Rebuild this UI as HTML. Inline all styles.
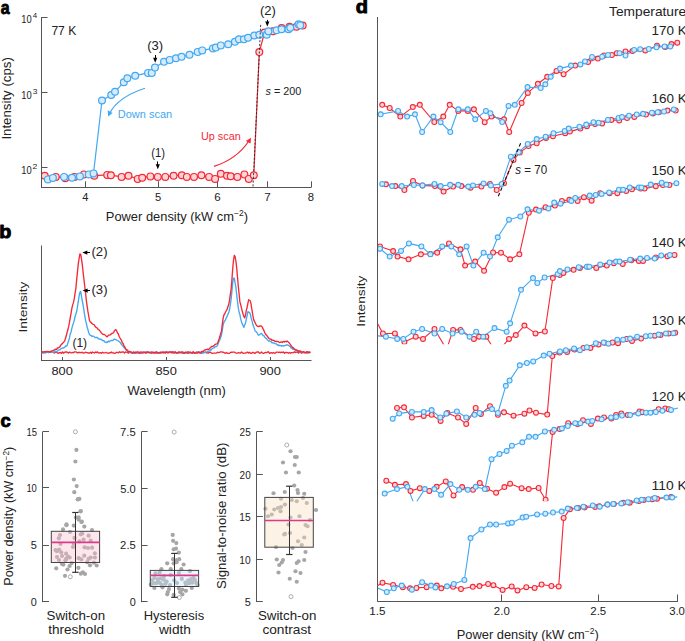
<!DOCTYPE html>
<html><head><meta charset="utf-8"><style>html,body{margin:0;padding:0;background:#fff;width:685px;height:641px;overflow:hidden}svg{display:block}text{font-family:"Liberation Sans",sans-serif}</style></head><body>
<svg width="685" height="641" viewBox="0 0 685 641" font-family='"Liberation Sans", sans-serif'>
<rect width="685" height="641" fill="#fff"/>
<line x1="41.5" y1="17" x2="41.5" y2="187.8" stroke="#555" stroke-width="1" />
<line x1="41.0" y1="187.5" x2="311.5" y2="187.5" stroke="#555" stroke-width="1" />
<line x1="41.5" y1="17.5" x2="47.5" y2="17.5" stroke="#555" stroke-width="1" />
<line x1="41.5" y1="92.5" x2="47.5" y2="92.5" stroke="#555" stroke-width="1" />
<line x1="41.5" y1="167.5" x2="47.5" y2="167.5" stroke="#555" stroke-width="1" />
<line x1="85.5" y1="187.3" x2="85.5" y2="181.3" stroke="#555" stroke-width="1" />
<text x="82.34" y="200.7" font-size="11" fill="#222" textLength="6.18" lengthAdjust="spacingAndGlyphs">4</text>
<line x1="158.5" y1="187.3" x2="158.5" y2="181.3" stroke="#555" stroke-width="1" />
<text x="154.94" y="200.7" font-size="11" fill="#222" textLength="6.22" lengthAdjust="spacingAndGlyphs">5</text>
<line x1="217.5" y1="187.3" x2="217.5" y2="181.3" stroke="#555" stroke-width="1" />
<text x="214.15" y="200.7" font-size="11" fill="#222" textLength="6.39" lengthAdjust="spacingAndGlyphs">6</text>
<line x1="267.5" y1="187.3" x2="267.5" y2="181.3" stroke="#555" stroke-width="1" />
<text x="264.31" y="200.7" font-size="11" fill="#222" textLength="6.48" lengthAdjust="spacingAndGlyphs">7</text>
<line x1="311.5" y1="187.3" x2="311.5" y2="181.3" stroke="#555" stroke-width="1" />
<text x="307.88" y="200.7" font-size="11" fill="#222" textLength="6.28" lengthAdjust="spacingAndGlyphs">8</text>
<text x="21.19" y="23.3" font-size="11" fill="#222" textLength="10.43" lengthAdjust="spacingAndGlyphs">10</text>
<text x="32.82" y="18.2" font-size="7.4" fill="#222" textLength="4.41" lengthAdjust="spacingAndGlyphs">4</text>
<text x="21.19" y="99.1" font-size="11" fill="#222" textLength="10.43" lengthAdjust="spacingAndGlyphs">10</text>
<text x="32.68" y="94.0" font-size="7.4" fill="#222" textLength="4.69" lengthAdjust="spacingAndGlyphs">3</text>
<text x="21.19" y="174.0" font-size="11" fill="#222" textLength="10.43" lengthAdjust="spacingAndGlyphs">10</text>
<text x="32.56" y="168.89999999999998" font-size="7.4" fill="#222" textLength="4.88" lengthAdjust="spacingAndGlyphs">2</text>
<text transform="translate(10.8,138.4) rotate(-90)" x="-1.22" y="0" font-size="12.3" fill="#222" textLength="82.44" lengthAdjust="spacingAndGlyphs">Intensity (cps)</text>
<text x="176.9" y="220.6" font-size="12.9" text-anchor="middle" fill="#222">Power density (kW cm<tspan font-size="8.5" dy="-4.8">−2</tspan><tspan dy="4.8">)</tspan></text>
<text x="0.83" y="14.0" font-size="18.5" fill="#000" font-weight="bold" textLength="8.87" lengthAdjust="spacingAndGlyphs" stroke="#000" stroke-width="0.9" stroke-linejoin="round">a</text>
<text x="51.38" y="34.6" font-size="12.8" fill="#222" textLength="24.96" lengthAdjust="spacingAndGlyphs">77 K</text>
<clipPath id="cpa"><rect x="42" y="0" width="300" height="187"/></clipPath><g clip-path="url(#cpa)">
<polyline points="44.7,175.7 55.8,176.9 65.3,178.2 74.4,176.9 83.9,174.4 94.3,175.7 107.2,174.9 110.9,175.2 121.6,176.9 128.5,175.7 137.7,178.9 142.2,177.7 150.4,176.4 157.8,176.9 165.3,176.9 173.6,175.7 181.8,175.2 186.8,176.9 194.0,176.9 201.4,175.2 209.1,176.9 215.1,178.9 220.8,173.7 227.0,175.7 230.7,176.2 237.4,176.9 244.4,174.4 248.8,178.9 253.8,175.2 259.3,52.1 264.5,32.5 272.9,31.2 281.6,28.0 289.5,26.8 296.5,26.8 302.7,25.6" fill="none" stroke="#f52835" stroke-width="1.2" stroke-linejoin="round" />
<polyline points="47.9,179.4 52.9,177.9 64.0,176.9 72.0,177.7 79.9,176.4 88.8,174.4 93.5,173.4 102.0,100.5 111.2,95.0 115.0,91.8 123.8,82.2 127.3,78.3 135.2,75.7 148.0,72.9 151.8,72.9 155.0,67.6 164.0,61.7 169.7,59.9 176.0,58.2 181.6,56.8 189.5,54.7 197.7,51.9 202.2,50.4 212.9,48.4 215.8,47.6 220.8,45.4 228.2,44.2 234.9,41.7 238.9,39.2 243.9,39.2 248.1,37.7 254.3,35.5 259.3,34.7 266.7,34.7 268.4,31.3 276.6,30.3 281.6,29.3 288.5,29.3 290.3,27.8 298.5,24.3 300.2,25.3" fill="none" stroke="#42a8f2" stroke-width="1.2" stroke-linejoin="round" />
<circle cx="44.7" cy="175.7" r="3.4" fill="#fcd5d8" stroke="#f52835" stroke-width="1.2"/>
<circle cx="55.8" cy="176.9" r="3.4" fill="#fcd5d8" stroke="#f52835" stroke-width="1.2"/>
<circle cx="65.3" cy="178.2" r="3.4" fill="#fcd5d8" stroke="#f52835" stroke-width="1.2"/>
<circle cx="74.4" cy="176.9" r="3.4" fill="#fcd5d8" stroke="#f52835" stroke-width="1.2"/>
<circle cx="83.9" cy="174.4" r="3.4" fill="#fcd5d8" stroke="#f52835" stroke-width="1.2"/>
<circle cx="94.3" cy="175.7" r="3.4" fill="#fcd5d8" stroke="#f52835" stroke-width="1.2"/>
<circle cx="107.2" cy="174.9" r="3.4" fill="#fcd5d8" stroke="#f52835" stroke-width="1.2"/>
<circle cx="110.9" cy="175.2" r="3.4" fill="#fcd5d8" stroke="#f52835" stroke-width="1.2"/>
<circle cx="121.6" cy="176.9" r="3.4" fill="#fcd5d8" stroke="#f52835" stroke-width="1.2"/>
<circle cx="128.5" cy="175.7" r="3.4" fill="#fcd5d8" stroke="#f52835" stroke-width="1.2"/>
<circle cx="137.7" cy="178.9" r="3.4" fill="#fcd5d8" stroke="#f52835" stroke-width="1.2"/>
<circle cx="142.2" cy="177.7" r="3.4" fill="#fcd5d8" stroke="#f52835" stroke-width="1.2"/>
<circle cx="150.4" cy="176.4" r="3.4" fill="#fcd5d8" stroke="#f52835" stroke-width="1.2"/>
<circle cx="157.8" cy="176.9" r="3.4" fill="#fcd5d8" stroke="#f52835" stroke-width="1.2"/>
<circle cx="165.3" cy="176.9" r="3.4" fill="#fcd5d8" stroke="#f52835" stroke-width="1.2"/>
<circle cx="173.6" cy="175.7" r="3.4" fill="#fcd5d8" stroke="#f52835" stroke-width="1.2"/>
<circle cx="181.8" cy="175.2" r="3.4" fill="#fcd5d8" stroke="#f52835" stroke-width="1.2"/>
<circle cx="186.8" cy="176.9" r="3.4" fill="#fcd5d8" stroke="#f52835" stroke-width="1.2"/>
<circle cx="194.0" cy="176.9" r="3.4" fill="#fcd5d8" stroke="#f52835" stroke-width="1.2"/>
<circle cx="201.4" cy="175.2" r="3.4" fill="#fcd5d8" stroke="#f52835" stroke-width="1.2"/>
<circle cx="209.1" cy="176.9" r="3.4" fill="#fcd5d8" stroke="#f52835" stroke-width="1.2"/>
<circle cx="215.1" cy="178.9" r="3.4" fill="#fcd5d8" stroke="#f52835" stroke-width="1.2"/>
<circle cx="220.8" cy="173.7" r="3.4" fill="#fcd5d8" stroke="#f52835" stroke-width="1.2"/>
<circle cx="227.0" cy="175.7" r="3.4" fill="#fcd5d8" stroke="#f52835" stroke-width="1.2"/>
<circle cx="230.7" cy="176.2" r="3.4" fill="#fcd5d8" stroke="#f52835" stroke-width="1.2"/>
<circle cx="237.4" cy="176.9" r="3.4" fill="#fcd5d8" stroke="#f52835" stroke-width="1.2"/>
<circle cx="244.4" cy="174.4" r="3.4" fill="#fcd5d8" stroke="#f52835" stroke-width="1.2"/>
<circle cx="248.8" cy="178.9" r="3.4" fill="#fcd5d8" stroke="#f52835" stroke-width="1.2"/>
<circle cx="253.8" cy="175.2" r="3.4" fill="#fcd5d8" stroke="#f52835" stroke-width="1.2"/>
<circle cx="259.3" cy="52.1" r="3.4" fill="#fcd5d8" stroke="#f52835" stroke-width="1.2"/>
<circle cx="264.5" cy="32.5" r="3.4" fill="#fcd5d8" stroke="#f52835" stroke-width="1.2"/>
<circle cx="272.9" cy="31.2" r="3.4" fill="#fcd5d8" stroke="#f52835" stroke-width="1.2"/>
<circle cx="281.6" cy="28.0" r="3.4" fill="#fcd5d8" stroke="#f52835" stroke-width="1.2"/>
<circle cx="289.5" cy="26.8" r="3.4" fill="#fcd5d8" stroke="#f52835" stroke-width="1.2"/>
<circle cx="296.5" cy="26.8" r="3.4" fill="#fcd5d8" stroke="#f52835" stroke-width="1.2"/>
<circle cx="302.7" cy="25.6" r="3.4" fill="#fcd5d8" stroke="#f52835" stroke-width="1.2"/>
<circle cx="47.9" cy="179.4" r="3.4" fill="#d5ebfc" stroke="#42a8f2" stroke-width="1.2"/>
<circle cx="52.9" cy="177.9" r="3.4" fill="#d5ebfc" stroke="#42a8f2" stroke-width="1.2"/>
<circle cx="64.0" cy="176.9" r="3.4" fill="#d5ebfc" stroke="#42a8f2" stroke-width="1.2"/>
<circle cx="72.0" cy="177.7" r="3.4" fill="#d5ebfc" stroke="#42a8f2" stroke-width="1.2"/>
<circle cx="79.9" cy="176.4" r="3.4" fill="#d5ebfc" stroke="#42a8f2" stroke-width="1.2"/>
<circle cx="88.8" cy="174.4" r="3.4" fill="#d5ebfc" stroke="#42a8f2" stroke-width="1.2"/>
<circle cx="93.5" cy="173.4" r="3.4" fill="#d5ebfc" stroke="#42a8f2" stroke-width="1.2"/>
<circle cx="102.0" cy="100.5" r="3.4" fill="#d5ebfc" stroke="#42a8f2" stroke-width="1.2"/>
<circle cx="111.2" cy="95.0" r="3.4" fill="#d5ebfc" stroke="#42a8f2" stroke-width="1.2"/>
<circle cx="115.0" cy="91.8" r="3.4" fill="#d5ebfc" stroke="#42a8f2" stroke-width="1.2"/>
<circle cx="123.8" cy="82.2" r="3.4" fill="#d5ebfc" stroke="#42a8f2" stroke-width="1.2"/>
<circle cx="127.3" cy="78.3" r="3.4" fill="#d5ebfc" stroke="#42a8f2" stroke-width="1.2"/>
<circle cx="135.2" cy="75.7" r="3.4" fill="#d5ebfc" stroke="#42a8f2" stroke-width="1.2"/>
<circle cx="148.0" cy="72.9" r="3.4" fill="#d5ebfc" stroke="#42a8f2" stroke-width="1.2"/>
<circle cx="151.8" cy="72.9" r="3.4" fill="#d5ebfc" stroke="#42a8f2" stroke-width="1.2"/>
<circle cx="155.0" cy="67.6" r="3.4" fill="#d5ebfc" stroke="#42a8f2" stroke-width="1.2"/>
<circle cx="164.0" cy="61.7" r="3.4" fill="#d5ebfc" stroke="#42a8f2" stroke-width="1.2"/>
<circle cx="169.7" cy="59.9" r="3.4" fill="#d5ebfc" stroke="#42a8f2" stroke-width="1.2"/>
<circle cx="176.0" cy="58.2" r="3.4" fill="#d5ebfc" stroke="#42a8f2" stroke-width="1.2"/>
<circle cx="181.6" cy="56.8" r="3.4" fill="#d5ebfc" stroke="#42a8f2" stroke-width="1.2"/>
<circle cx="189.5" cy="54.7" r="3.4" fill="#d5ebfc" stroke="#42a8f2" stroke-width="1.2"/>
<circle cx="197.7" cy="51.9" r="3.4" fill="#d5ebfc" stroke="#42a8f2" stroke-width="1.2"/>
<circle cx="202.2" cy="50.4" r="3.4" fill="#d5ebfc" stroke="#42a8f2" stroke-width="1.2"/>
<circle cx="212.9" cy="48.4" r="3.4" fill="#d5ebfc" stroke="#42a8f2" stroke-width="1.2"/>
<circle cx="215.8" cy="47.6" r="3.4" fill="#d5ebfc" stroke="#42a8f2" stroke-width="1.2"/>
<circle cx="220.8" cy="45.4" r="3.4" fill="#d5ebfc" stroke="#42a8f2" stroke-width="1.2"/>
<circle cx="228.2" cy="44.2" r="3.4" fill="#d5ebfc" stroke="#42a8f2" stroke-width="1.2"/>
<circle cx="234.9" cy="41.7" r="3.4" fill="#d5ebfc" stroke="#42a8f2" stroke-width="1.2"/>
<circle cx="238.9" cy="39.2" r="3.4" fill="#d5ebfc" stroke="#42a8f2" stroke-width="1.2"/>
<circle cx="243.9" cy="39.2" r="3.4" fill="#d5ebfc" stroke="#42a8f2" stroke-width="1.2"/>
<circle cx="248.1" cy="37.7" r="3.4" fill="#d5ebfc" stroke="#42a8f2" stroke-width="1.2"/>
<circle cx="254.3" cy="35.5" r="3.4" fill="#d5ebfc" stroke="#42a8f2" stroke-width="1.2"/>
<circle cx="259.3" cy="34.7" r="3.4" fill="#d5ebfc" stroke="#42a8f2" stroke-width="1.2"/>
<circle cx="266.7" cy="34.7" r="3.4" fill="#d5ebfc" stroke="#42a8f2" stroke-width="1.2"/>
<circle cx="268.4" cy="31.3" r="3.4" fill="#d5ebfc" stroke="#42a8f2" stroke-width="1.2"/>
<circle cx="276.6" cy="30.3" r="3.4" fill="#d5ebfc" stroke="#42a8f2" stroke-width="1.2"/>
<circle cx="281.6" cy="29.3" r="3.4" fill="#d5ebfc" stroke="#42a8f2" stroke-width="1.2"/>
<circle cx="288.5" cy="29.3" r="3.4" fill="#d5ebfc" stroke="#42a8f2" stroke-width="1.2"/>
<circle cx="290.3" cy="27.8" r="3.4" fill="#d5ebfc" stroke="#42a8f2" stroke-width="1.2"/>
<circle cx="298.5" cy="24.3" r="3.4" fill="#d5ebfc" stroke="#42a8f2" stroke-width="1.2"/>
<circle cx="300.2" cy="25.3" r="3.4" fill="#d5ebfc" stroke="#42a8f2" stroke-width="1.2"/>
<line x1="253" y1="186.5" x2="260.7" y2="24" stroke="#222" stroke-width="0.85" stroke-dasharray="2.2,1.6"/>
</g>
<text x="147.19" y="50.3" font-size="12.5" fill="#222" textLength="15.92" lengthAdjust="spacingAndGlyphs">(3)</text>
<line x1="155.5" y1="55" x2="155.5" y2="59.8" stroke="#000" stroke-width="1" />
<path d="M153.1,57.8 L157.29999999999998,57.8 L155.2,62.8 Z" fill="#000"/>
<text x="259.94" y="14.5" font-size="12.5" fill="#222" textLength="15.92" lengthAdjust="spacingAndGlyphs">(2)</text>
<line x1="267.5" y1="19.9" x2="267.5" y2="23.5" stroke="#000" stroke-width="1" />
<path d="M265.2,21.5 L269.40000000000003,21.5 L267.3,26.5 Z" fill="#000"/>
<text x="151.20" y="157.4" font-size="12.5" fill="#222" textLength="13.80" lengthAdjust="spacingAndGlyphs">(1)</text>
<line x1="157.5" y1="161.5" x2="157.5" y2="166.2" stroke="#000" stroke-width="1" />
<path d="M155.70000000000002,164.2 L159.9,164.2 L157.8,169.2 Z" fill="#000"/>
<text x="265.5" y="95" font-size="11.7" fill="#222" textLength="35.8" lengthAdjust="spacingAndGlyphs"><tspan font-style="italic">s</tspan> = 200</text>
<path d="M145,88.2 Q118,97 109.8,113" fill="none" stroke="#42a8f2" stroke-width="1.2"/>
<path d="M108.2,116.6 L107.6,110.2 L112.6,112.9 Z" fill="#42a8f2"/>
<text x="117.80" y="117.6" font-size="10.9" fill="#42a8f2" textLength="54.42" lengthAdjust="spacingAndGlyphs">Down scan</text>
<path d="M213.9,166.4 Q237,159 248.8,141" fill="none" stroke="#f52835" stroke-width="1.2"/>
<path d="M251,137.8 L250.6,143.6 L245.9,141 Z" fill="#f52835"/>
<text x="201.07" y="139.8" font-size="10.4" fill="#f52835" textLength="39.64" lengthAdjust="spacingAndGlyphs">Up scan</text>
<line x1="41.5" y1="245.5" x2="41.5" y2="361" stroke="#555" stroke-width="1" />
<line x1="41.0" y1="360.5" x2="311.5" y2="360.5" stroke="#555" stroke-width="1" />
<line x1="62.5" y1="360.6" x2="62.5" y2="357" stroke="#555" stroke-width="1" />
<text x="51.49" y="374.6" font-size="11.3" fill="#222" textLength="21.36" lengthAdjust="spacingAndGlyphs">800</text>
<line x1="166.5" y1="360.6" x2="166.5" y2="357" stroke="#555" stroke-width="1" />
<text x="155.49" y="374.6" font-size="11.3" fill="#222" textLength="21.36" lengthAdjust="spacingAndGlyphs">850</text>
<line x1="270.5" y1="360.6" x2="270.5" y2="357" stroke="#555" stroke-width="1" />
<text x="259.45" y="374.6" font-size="11.3" fill="#222" textLength="21.40" lengthAdjust="spacingAndGlyphs">900</text>
<text x="127.54" y="394.7" font-size="13" fill="#222" textLength="98.36" lengthAdjust="spacingAndGlyphs">Wavelength (nm)</text>
<text transform="translate(27.2,331.3) rotate(-90)" x="-1.26" y="0" font-size="11.4" fill="#222" textLength="50.99" lengthAdjust="spacingAndGlyphs">Intensity</text>
<text x="-0.81" y="237.8" font-size="18.9" fill="#000" font-weight="bold" textLength="12.12" lengthAdjust="spacingAndGlyphs" stroke="#000" stroke-width="0.9" stroke-linejoin="round">b</text>
<polyline points="41.5,352.3 42.5,352.0 43.5,352.8 44.5,351.9 45.5,352.7 46.5,352.4 47.5,351.9 48.5,352.6 49.5,351.9 50.5,352.5 51.5,351.9 52.5,351.9 53.5,352.5 54.5,353.1 55.5,352.0 56.5,352.2 57.5,352.8 58.5,353.3 59.5,352.7 60.5,352.4 61.5,353.4 62.5,351.9 63.5,353.2 64.5,352.3 65.5,352.0 66.5,352.0 67.5,352.3 68.5,353.1 69.5,352.1 70.5,352.7 71.5,352.8 72.5,352.4 73.5,352.7 74.5,351.9 75.5,351.9 76.5,352.1 77.5,352.9 78.5,352.5 79.5,352.3 80.5,352.7 81.5,352.5 82.5,352.3 83.5,353.1 84.5,352.9 85.5,352.2 86.5,352.7 87.5,352.6 88.5,353.2 89.5,353.0 90.5,352.3 91.5,353.4 92.5,352.0 93.5,352.5 94.5,353.0 95.5,352.0 96.5,352.6 97.5,351.9 98.5,352.9 99.5,353.0 100.5,352.7 101.5,353.2 102.5,352.3 103.5,352.9 104.5,352.8 105.5,352.7 106.5,352.5 107.5,353.1 108.5,353.3 109.5,352.6 110.5,352.9 111.5,351.9 112.5,352.9 113.5,352.8 114.5,353.4 115.5,353.1 116.5,352.3 117.5,352.4 118.5,352.9 119.5,351.8 120.5,352.5 121.5,352.1 122.5,352.0 123.5,351.9 124.5,353.0 125.5,352.0 126.5,352.2 127.5,352.4 128.5,353.2 129.5,351.9 130.5,352.5 131.5,352.7 132.5,353.2 133.5,353.1 134.5,353.2 135.5,352.2 136.5,352.5 137.5,352.4 138.5,353.2 139.5,353.3 140.5,352.0 141.5,352.1 142.5,352.2 143.5,352.2 144.5,352.6 145.5,352.7 146.5,352.2 147.5,351.8 148.5,352.5 149.5,352.4 150.5,352.7 151.5,353.3 152.5,352.9 153.5,352.6 154.5,352.8 155.5,352.9 156.5,351.9 157.5,353.2 158.5,353.0 159.5,353.2 160.5,353.1 161.5,352.4 162.5,352.4 163.5,352.0 164.5,352.8 165.5,351.9 166.5,351.9 167.5,352.1 168.5,352.1 169.5,352.3 170.5,351.9 171.5,351.8 172.5,352.0 173.5,352.0 174.5,352.4 175.5,351.8 176.5,353.2 177.5,352.8 178.5,352.0 179.5,352.2 180.5,352.4 181.5,352.4 182.5,352.0 183.5,353.2 184.5,353.4 185.5,352.5 186.5,352.6 187.5,351.9 188.5,352.0 189.5,352.3 190.5,352.2 191.5,353.1 192.5,352.1 193.5,351.8 194.5,353.3 195.5,352.6 196.5,352.0 197.5,352.7 198.5,351.8 199.5,352.6 200.5,353.4 201.5,353.2 202.5,352.9 203.5,352.2 204.5,352.4 205.5,352.1 206.5,353.0 207.5,352.7 208.5,353.0 209.5,352.3 210.5,352.2 211.5,353.1 212.5,353.4 213.5,353.2 214.5,353.1 215.5,353.1 216.5,353.0 217.5,352.2 218.5,352.6 219.5,352.4 220.5,351.8 221.5,351.8 222.5,352.2 223.5,352.2 224.5,352.9 225.5,353.3 226.5,352.5 227.5,353.3 228.5,353.4 229.5,353.3 230.5,352.4 231.5,352.2 232.5,352.2 233.5,352.1 234.5,352.1 235.5,352.8 236.5,353.2 237.5,353.1 238.5,352.6 239.5,352.8 240.5,353.1 241.5,351.9 242.5,352.9 243.5,353.3 244.5,353.1 245.5,353.0 246.5,352.6 247.5,352.1 248.5,353.1 249.5,352.3 250.5,353.1 251.5,353.4 252.5,352.4 253.5,352.4 254.5,353.3 255.5,353.0 256.5,352.1 257.5,352.0 258.5,352.0 259.5,353.2 260.5,353.1 261.5,352.0 262.5,353.1 263.5,353.4 264.5,352.9 265.5,352.4 266.5,352.7 267.5,352.0 268.5,351.8 269.5,353.4 270.5,352.8 271.5,352.6 272.5,353.3 273.5,352.5 274.5,353.2 275.5,353.1 276.5,352.1 277.5,352.2 278.5,352.3 279.5,352.2 280.5,352.7 281.5,352.2 282.5,352.5 283.5,352.0 284.5,353.3 285.5,352.4 286.5,352.5 287.5,352.7 288.5,353.2 289.5,352.5 290.5,353.3 291.5,352.6 292.5,352.7 293.5,352.6 294.5,351.8 295.5,352.5 296.5,352.1 297.5,351.8 298.5,353.1 299.5,352.1 300.5,352.6 301.5,353.0 302.5,352.7 303.5,352.3 304.5,352.6 305.5,352.7 306.5,353.1 307.5,352.0 308.5,352.7 309.5,352.2 310.5,352.2" fill="none" stroke="#f52835" stroke-width="1.35" stroke-linejoin="round" />
<polyline points="41.5,353.1 42.3,352.7 43.1,352.7 43.9,352.9 44.7,352.9 45.5,352.4 46.3,352.5 47.1,352.3 47.9,352.2 48.7,352.3 49.5,352.0 50.3,352.0 51.1,351.9 51.9,352.3 52.7,351.9 53.5,352.1 54.3,352.1 55.1,351.2 55.9,351.3 56.7,351.5 57.5,351.1 58.3,350.1 59.1,349.8 59.9,349.8 60.7,348.9 61.5,348.6 62.3,347.9 63.1,348.1 63.9,347.7 64.7,347.3 65.5,346.0 66.3,346.2 67.1,345.6 67.9,342.7 68.7,340.5 69.5,337.7 70.3,333.9 71.1,331.7 71.9,328.1 72.7,325.3 73.5,322.9 74.3,320.0 75.1,316.5 75.9,314.0 76.7,311.3 77.5,306.7 78.3,301.3 79.1,296.2 79.9,292.2 80.7,291.4 81.5,296.5 82.3,300.9 83.1,305.0 83.9,310.2 84.7,315.4 85.5,320.1 86.3,323.2 87.1,327.0 87.9,329.5 88.7,332.5 89.5,334.4 90.3,335.4 91.1,335.4 91.9,336.5 92.7,336.1 93.5,336.2 94.3,336.8 95.1,337.5 95.9,337.7 96.7,337.3 97.5,337.6 98.3,338.8 99.1,338.9 99.9,339.4 100.7,339.1 101.5,339.5 102.3,340.5 103.1,340.7 103.9,340.7 104.7,342.0 105.5,342.1 106.3,342.6 107.1,341.6 107.9,342.2 108.7,341.0 109.5,341.6 110.3,340.9 111.1,340.5 111.9,340.5 112.7,340.6 113.5,339.6 114.3,339.2 115.1,339.5 115.9,339.6 116.7,340.0 117.5,340.5 118.3,340.9 119.1,341.5 119.9,342.1 120.7,343.1 121.5,344.7 122.3,345.2 123.1,346.5 123.9,347.2 124.7,348.5 125.5,349.2 126.3,350.1 127.1,350.2 127.9,351.4 128.7,351.6 129.5,351.5 130.3,352.2 131.1,353.1 131.9,352.2 132.7,353.0 133.5,352.5 134.3,352.6 135.1,353.0 135.9,352.5 136.7,352.6 137.5,352.8 138.3,353.1 139.1,352.4 139.9,353.0 140.7,352.8 141.5,352.7 142.3,352.5 143.1,352.4 143.9,352.1 144.7,352.2 145.5,352.1 146.3,352.9 147.1,352.3 147.9,352.2 148.7,352.1 149.5,353.0 150.3,353.0 151.1,352.8 151.9,352.4 152.7,352.3 153.5,352.4 154.3,352.6 155.1,352.2 155.9,352.5 156.7,352.3 157.5,353.1 158.3,353.1 159.1,352.7 159.9,352.3 160.7,353.1 161.5,352.4 162.3,352.4 163.1,352.1 163.9,352.5 164.7,352.6 165.5,352.6 166.3,352.3 167.1,352.6 167.9,352.1 168.7,352.3 169.5,352.1 170.3,352.5 171.1,352.1 171.9,352.1 172.7,352.4 173.5,352.3 174.3,352.7 175.1,352.6 175.9,352.9 176.7,352.8 177.5,352.8 178.3,353.0 179.1,352.5 179.9,352.4 180.7,353.1 181.5,352.2 182.3,352.8 183.1,352.8 183.9,352.1 184.7,353.0 185.5,353.0 186.3,352.7 187.1,352.9 187.9,352.9 188.7,352.2 189.5,352.6 190.3,352.6 191.1,353.0 191.9,352.9 192.7,353.0 193.5,352.7 194.3,353.0 195.1,352.8 195.9,352.8 196.7,352.3 197.5,352.1 198.3,352.2 199.1,352.4 199.9,352.2 200.7,353.0 201.5,352.7 202.3,352.7 203.1,352.7 203.9,352.8 204.7,352.6 205.5,351.9 206.3,352.4 207.1,352.0 207.9,351.4 208.7,351.1 209.5,351.0 210.3,349.8 211.1,350.0 211.9,348.9 212.7,348.2 213.5,347.8 214.3,347.8 215.1,346.6 215.9,346.7 216.7,346.4 217.5,345.3 218.3,343.2 219.1,341.3 219.9,339.5 220.7,337.6 221.5,335.0 222.3,330.4 223.1,325.1 223.9,322.4 224.7,320.9 225.5,319.9 226.3,317.8 227.1,316.4 227.9,314.2 228.7,312.6 229.5,309.8 230.3,304.8 231.1,299.4 231.9,291.5 232.7,282.9 233.5,278.2 234.3,278.1 235.1,282.8 235.9,287.1 236.7,294.7 237.5,301.3 238.3,308.2 239.1,311.9 239.9,314.7 240.7,318.9 241.5,321.8 242.3,324.1 243.1,325.6 243.9,327.4 244.7,324.9 245.5,323.3 246.3,319.1 247.1,315.6 247.9,311.7 248.7,312.1 249.5,312.6 250.3,314.0 251.1,317.9 251.9,320.6 252.7,323.7 253.5,326.2 254.3,328.4 255.1,330.9 255.9,331.6 256.7,332.3 257.5,333.5 258.3,335.2 259.1,335.1 259.9,334.4 260.7,333.7 261.5,333.5 262.3,334.3 263.1,335.7 263.9,335.6 264.7,337.2 265.5,338.1 266.3,338.1 267.1,339.8 267.9,340.3 268.7,341.1 269.5,340.8 270.3,341.3 271.1,341.7 271.9,342.8 272.7,342.7 273.5,342.9 274.3,343.4 275.1,343.6 275.9,343.8 276.7,344.1 277.5,345.2 278.3,344.8 279.1,345.8 279.9,345.3 280.7,345.6 281.5,346.1 282.3,345.7 283.1,345.7 283.9,346.0 284.7,345.7 285.5,345.4 286.3,344.9 287.1,345.0 287.9,345.0 288.7,345.4 289.5,346.3 290.3,346.4 291.1,348.0 291.9,348.3 292.7,349.0 293.5,349.3 294.3,349.3 295.1,349.4 295.9,350.8 296.7,350.3 297.5,351.1 298.3,351.1 299.1,351.2 299.9,351.9 300.7,352.3 301.5,351.7 302.3,352.3 303.1,352.0 303.9,352.5 304.7,352.5 305.5,352.3 306.3,352.3 307.1,352.4 307.9,353.1 308.7,352.7 309.5,352.4 310.3,353.1" fill="none" stroke="#42a8f2" stroke-width="1.35" stroke-linejoin="round" />
<polyline points="41.5,353.0 42.3,352.4 43.1,351.9 43.9,351.9 44.7,351.7 45.5,351.9 46.3,351.5 47.1,351.6 47.9,351.5 48.7,351.7 49.5,352.0 50.3,351.7 51.1,351.1 51.9,350.8 52.7,350.7 53.5,350.3 54.3,350.0 55.1,349.5 55.9,349.2 56.7,349.4 57.5,347.9 58.3,347.8 59.1,347.4 59.9,346.9 60.7,345.3 61.5,344.5 62.3,343.5 63.1,342.8 63.9,341.9 64.7,340.9 65.5,338.3 66.3,335.8 67.1,332.3 67.9,329.8 68.7,326.4 69.5,322.2 70.3,317.4 71.1,313.1 71.9,308.1 72.7,304.9 73.5,302.4 74.3,298.4 75.1,293.1 75.9,288.0 76.7,279.6 77.5,271.5 78.3,263.6 79.1,258.5 79.9,253.9 80.7,254.3 81.5,259.1 82.3,264.8 83.1,272.1 83.9,279.0 84.7,286.0 85.5,292.5 86.3,300.2 87.1,305.8 87.9,311.4 88.7,316.0 89.5,320.5 90.3,321.9 91.1,322.5 91.9,323.5 92.7,324.1 93.5,324.3 94.3,325.0 95.1,326.3 95.9,327.2 96.7,327.8 97.5,328.4 98.3,329.6 99.1,329.8 99.9,330.9 100.7,331.9 101.5,333.2 102.3,333.7 103.1,334.4 103.9,334.5 104.7,334.7 105.5,335.2 106.3,336.5 107.1,336.7 107.9,335.9 108.7,335.1 109.5,335.1 110.3,334.9 111.1,334.1 111.9,333.5 112.7,333.2 113.5,332.7 114.3,331.1 115.1,330.1 115.9,329.6 116.7,331.0 117.5,332.9 118.3,334.0 119.1,336.2 119.9,337.8 120.7,339.1 121.5,340.3 122.3,342.8 123.1,343.6 123.9,345.8 124.7,346.7 125.5,348.3 126.3,349.8 127.1,349.9 127.9,351.2 128.7,351.3 129.5,351.5 130.3,351.8 131.1,352.0 131.9,352.4 132.7,352.8 133.5,352.0 134.3,352.3 135.1,352.2 135.9,353.0 136.7,352.1 137.5,352.0 138.3,352.0 139.1,352.4 139.9,353.0 140.7,352.9 141.5,352.8 142.3,353.1 143.1,353.0 143.9,352.3 144.7,352.2 145.5,353.0 146.3,352.8 147.1,352.0 147.9,352.7 148.7,352.4 149.5,352.4 150.3,352.4 151.1,352.2 151.9,352.0 152.7,352.3 153.5,352.4 154.3,353.1 155.1,352.1 155.9,353.1 156.7,352.2 157.5,352.4 158.3,352.9 159.1,352.9 159.9,352.5 160.7,352.1 161.5,352.6 162.3,352.4 163.1,353.0 163.9,352.3 164.7,352.4 165.5,353.0 166.3,352.1 167.1,352.5 167.9,352.9 168.7,352.9 169.5,352.1 170.3,352.1 171.1,352.1 171.9,353.1 172.7,352.3 173.5,352.9 174.3,353.1 175.1,352.4 175.9,352.4 176.7,353.1 177.5,352.8 178.3,352.4 179.1,352.9 179.9,352.4 180.7,352.4 181.5,352.1 182.3,352.9 183.1,353.1 183.9,352.8 184.7,353.1 185.5,352.1 186.3,352.4 187.1,352.6 187.9,353.2 188.7,353.2 189.5,352.5 190.3,352.4 191.1,352.6 191.9,352.7 192.7,353.1 193.5,352.3 194.3,353.0 195.1,352.9 195.9,353.0 196.7,353.0 197.5,352.8 198.3,352.5 199.1,352.5 199.9,352.5 200.7,352.7 201.5,351.5 202.3,351.3 203.1,351.5 203.9,350.6 204.7,350.0 205.5,349.6 206.3,349.8 207.1,349.2 207.9,349.6 208.7,349.1 209.5,348.8 210.3,347.6 211.1,346.9 211.9,346.4 212.7,346.3 213.5,346.0 214.3,345.3 215.1,344.5 215.9,344.2 216.7,343.9 217.5,343.5 218.3,341.2 219.1,338.9 219.9,336.3 220.7,333.3 221.5,331.2 222.3,324.4 223.1,318.4 223.9,315.0 224.7,314.0 225.5,312.0 226.3,310.7 227.1,309.3 227.9,306.7 228.7,304.6 229.5,300.4 230.3,294.7 231.1,289.3 231.9,279.9 232.7,268.7 233.5,260.3 234.3,255.3 235.1,256.7 235.9,261.0 236.7,267.8 237.5,277.2 238.3,286.2 239.1,294.0 239.9,301.9 240.7,304.7 241.5,308.2 242.3,311.3 243.1,314.2 243.9,316.7 244.7,317.9 245.5,315.0 246.3,310.5 247.1,307.3 247.9,303.4 248.7,299.7 249.5,300.5 250.3,300.9 251.1,304.4 251.9,309.5 252.7,314.5 253.5,319.0 254.3,321.2 255.1,322.6 255.9,324.3 256.7,325.6 257.5,326.2 258.3,326.5 259.1,326.3 259.9,326.0 260.7,325.9 261.5,326.2 262.3,327.2 263.1,328.9 263.9,330.4 264.7,332.6 265.5,334.0 266.3,335.0 267.1,335.9 267.9,337.0 268.7,338.0 269.5,338.9 270.3,339.0 271.1,339.3 271.9,340.2 272.7,340.2 273.5,340.3 274.3,340.6 275.1,341.6 275.9,341.2 276.7,341.6 277.5,341.5 278.3,341.7 279.1,342.3 279.9,342.5 280.7,342.0 281.5,341.9 282.3,342.5 283.1,341.7 283.9,341.3 284.7,342.1 285.5,341.4 286.3,341.7 287.1,341.0 287.9,341.7 288.7,342.4 289.5,343.3 290.3,344.3 291.1,345.8 291.9,346.7 292.7,347.8 293.5,347.7 294.3,349.1 295.1,349.6 295.9,350.2 296.7,350.0 297.5,350.4 298.3,350.8 299.1,351.5 299.9,350.8 300.7,351.4 301.5,352.0 302.3,352.4 303.1,351.7 303.9,351.7 304.7,352.6 305.5,352.6 306.3,352.1 307.1,351.6 307.9,352.6 308.7,352.0 309.5,352.5 310.3,352.2" fill="none" stroke="#f52835" stroke-width="1.35" stroke-linejoin="round" />
<text x="91.49" y="256.2" font-size="12.5" fill="#222" textLength="16.03" lengthAdjust="spacingAndGlyphs">(2)</text>
<line x1="90" y1="252.5" x2="85.3" y2="252.5" stroke="#000" stroke-width="1" />
<path d="M87.3,250.5 L87.3,254.7 L82.3,252.6 Z" fill="#000"/>
<text x="91.49" y="294.45" font-size="12.5" fill="#222" textLength="16.03" lengthAdjust="spacingAndGlyphs">(3)</text>
<line x1="90" y1="290.5" x2="85.6" y2="290.5" stroke="#000" stroke-width="1" />
<path d="M87.6,288.5 L87.6,292.70000000000005 L82.6,290.6 Z" fill="#000"/>
<text x="72.45" y="346.7" font-size="12.5" fill="#222" textLength="14.69" lengthAdjust="spacingAndGlyphs">(1)</text>
<text x="0.58" y="427.2" font-size="18.5" fill="#000" font-weight="bold" textLength="10.26" lengthAdjust="spacingAndGlyphs" stroke="#000" stroke-width="0.9" stroke-linejoin="round">c</text>
<line x1="42.5" y1="431.6" x2="42.5" y2="602.2" stroke="#555" stroke-width="1" />
<line x1="42.7" y1="601.5" x2="49" y2="601.5" stroke="#555" stroke-width="1" />
<line x1="42.7" y1="431.5" x2="49" y2="431.5" stroke="#555" stroke-width="1" />
<text x="26.38" y="435.90000000000003" font-size="10.8" fill="#222" textLength="10.52" lengthAdjust="spacingAndGlyphs">15</text>
<line x1="42.7" y1="487.5" x2="49" y2="487.5" stroke="#555" stroke-width="1" />
<text x="26.38" y="492.2" font-size="10.8" fill="#222" textLength="10.49" lengthAdjust="spacingAndGlyphs">10</text>
<line x1="42.7" y1="545.5" x2="49" y2="545.5" stroke="#555" stroke-width="1" />
<text x="30.86" y="549.4" font-size="10.8" fill="#222" textLength="6.10" lengthAdjust="spacingAndGlyphs">5</text>
<line x1="42.7" y1="601.5" x2="49" y2="601.5" stroke="#555" stroke-width="1" />
<text x="30.88" y="606.0" font-size="10.8" fill="#222" textLength="6.05" lengthAdjust="spacingAndGlyphs">0</text>
<text transform="translate(13.4,516.2) rotate(-90)" font-size="12.6" text-anchor="middle" fill="#222">Power density (kW cm<tspan font-size="8.3" dy="-4.6">−2</tspan><tspan dy="4.6">)</tspan></text>
<circle cx="78" cy="499.2" r="2.1" fill="#a6a6a6"/>
<circle cx="79.4" cy="498.9" r="2.1" fill="#a6a6a6"/>
<circle cx="80.8" cy="511.2" r="2.1" fill="#a6a6a6"/>
<circle cx="75.9" cy="517.5" r="2.1" fill="#a6a6a6"/>
<circle cx="78.7" cy="519.6" r="2.1" fill="#a6a6a6"/>
<circle cx="81.8" cy="521.7" r="2.1" fill="#a6a6a6"/>
<circle cx="66.4" cy="525.2" r="2.1" fill="#a6a6a6"/>
<circle cx="73.8" cy="525.6" r="2.1" fill="#a6a6a6"/>
<circle cx="84.3" cy="526.6" r="2.1" fill="#a6a6a6"/>
<circle cx="63" cy="529.4" r="2.1" fill="#a6a6a6"/>
<circle cx="82.2" cy="533.6" r="2.1" fill="#a6a6a6"/>
<circle cx="80.8" cy="534.3" r="2.1" fill="#a6a6a6"/>
<circle cx="88.6" cy="535.7" r="2.1" fill="#a6a6a6"/>
<circle cx="58.8" cy="538.3" r="2.1" fill="#a6a6a6"/>
<circle cx="74.5" cy="537.9" r="2.1" fill="#a6a6a6"/>
<circle cx="83.6" cy="539.7" r="2.1" fill="#a6a6a6"/>
<circle cx="90.7" cy="540.7" r="2.1" fill="#a6a6a6"/>
<circle cx="79.4" cy="541.4" r="2.1" fill="#a6a6a6"/>
<circle cx="60.5" cy="543.9" r="2.1" fill="#a6a6a6"/>
<circle cx="73.8" cy="543.5" r="2.1" fill="#a6a6a6"/>
<circle cx="84.6" cy="547.3" r="2.1" fill="#a6a6a6"/>
<circle cx="92.1" cy="547.7" r="2.1" fill="#a6a6a6"/>
<circle cx="55.5" cy="550.1" r="2.1" fill="#a6a6a6"/>
<circle cx="59.1" cy="549.5" r="2.1" fill="#a6a6a6"/>
<circle cx="56.9" cy="551.2" r="2.1" fill="#a6a6a6"/>
<circle cx="61.2" cy="552.3" r="2.1" fill="#a6a6a6"/>
<circle cx="66.1" cy="553.7" r="2.1" fill="#a6a6a6"/>
<circle cx="94.9" cy="553.3" r="2.1" fill="#a6a6a6"/>
<circle cx="84.3" cy="555.7" r="2.1" fill="#a6a6a6"/>
<circle cx="69.6" cy="557.5" r="2.1" fill="#a6a6a6"/>
<circle cx="78.7" cy="558.2" r="2.1" fill="#a6a6a6"/>
<circle cx="81.3" cy="559.4" r="2.1" fill="#a6a6a6"/>
<circle cx="66.1" cy="558.9" r="2.1" fill="#a6a6a6"/>
<circle cx="65.4" cy="560.3" r="2.1" fill="#a6a6a6"/>
<circle cx="90.7" cy="557.5" r="2.1" fill="#a6a6a6"/>
<circle cx="94.9" cy="557.5" r="2.1" fill="#a6a6a6"/>
<circle cx="88.6" cy="558.9" r="2.1" fill="#a6a6a6"/>
<circle cx="61.9" cy="563.8" r="2.1" fill="#a6a6a6"/>
<circle cx="63.3" cy="564.6" r="2.1" fill="#a6a6a6"/>
<circle cx="71.7" cy="563.1" r="2.1" fill="#a6a6a6"/>
<circle cx="69.6" cy="566" r="2.1" fill="#a6a6a6"/>
<circle cx="87.2" cy="562.2" r="2.1" fill="#a6a6a6"/>
<circle cx="90" cy="565.3" r="2.1" fill="#a6a6a6"/>
<circle cx="93.9" cy="562.7" r="2.1" fill="#a6a6a6"/>
<circle cx="96.7" cy="565.5" r="2.1" fill="#a6a6a6"/>
<circle cx="56.2" cy="568.3" r="2.1" fill="#a6a6a6"/>
<circle cx="67.5" cy="569.5" r="2.1" fill="#a6a6a6"/>
<circle cx="78.4" cy="567.8" r="2.1" fill="#a6a6a6"/>
<circle cx="65" cy="575.8" r="2.1" fill="#a6a6a6"/>
<circle cx="80.8" cy="573.7" r="2.1" fill="#a6a6a6"/>
<circle cx="82.9" cy="572.3" r="2.1" fill="#a6a6a6"/>
<circle cx="85" cy="574" r="2.1" fill="#a6a6a6"/>
<circle cx="76.4" cy="449.9" r="2.1" fill="#a6a6a6"/>
<circle cx="75.4" cy="461.5" r="2.1" fill="#a6a6a6"/>
<circle cx="73.9" cy="479.5" r="2.1" fill="#a6a6a6"/>
<circle cx="76.7" cy="486.1" r="2.1" fill="#a6a6a6"/>
<circle cx="74.3" cy="492.2" r="2.1" fill="#a6a6a6"/>
<circle cx="77.7" cy="499.5" r="2.1" fill="#a6a6a6"/>
<circle cx="80.5" cy="511.3" r="2.1" fill="#a6a6a6"/>
<circle cx="78.6" cy="517.3" r="2.1" fill="#a6a6a6"/>
<circle cx="81.4" cy="522" r="2.1" fill="#a6a6a6"/>
<circle cx="66.5" cy="524.4" r="2.1" fill="#a6a6a6"/>
<circle cx="57" cy="557" r="2.1" fill="#a6a6a6"/>
<circle cx="62" cy="556" r="2.1" fill="#a6a6a6"/>
<circle cx="68" cy="556.5" r="2.1" fill="#a6a6a6"/>
<circle cx="59" cy="560" r="2.1" fill="#a6a6a6"/>
<circle cx="73" cy="547" r="2.1" fill="#a6a6a6"/>
<circle cx="88" cy="548" r="2.1" fill="#a6a6a6"/>
<circle cx="92" cy="530" r="2.1" fill="#a6a6a6"/>
<circle cx="60" cy="535" r="2.1" fill="#a6a6a6"/>
<circle cx="70" cy="532" r="2.1" fill="#a6a6a6"/>
<circle cx="75.4" cy="431.8" r="2" fill="#fff" stroke="#999" stroke-width="0.8"/>
<circle cx="70.3" cy="576.8" r="2" fill="#fff" stroke="#999" stroke-width="0.8"/>
<rect x="51.3" y="531.3" width="48.3" height="31.200000000000045" fill="rgba(250,190,205,0.38)" stroke="#444" stroke-width="1"/>
<line x1="75.5" y1="512.5" x2="75.5" y2="572.3" stroke="#333" stroke-width="1" />
<line x1="72.2" y1="512.5" x2="78.60000000000001" y2="512.5" stroke="#333" stroke-width="1.2" />
<line x1="72.2" y1="572.3" x2="78.60000000000001" y2="572.3" stroke="#333" stroke-width="1.2" />
<line x1="51.3" y1="542.4" x2="99.6" y2="542.4" stroke="#e0398a" stroke-width="1.6" />
<text x="46.60" y="619.8" font-size="13" fill="#222" textLength="58.47" lengthAdjust="spacingAndGlyphs">Switch-on</text>
<text x="48.19" y="634.2" font-size="13" fill="#222" textLength="55.78" lengthAdjust="spacingAndGlyphs">threshold</text>
<line x1="141.5" y1="431.8" x2="141.5" y2="602.2" stroke="#555" stroke-width="1" />
<line x1="141.4" y1="431.5" x2="147.6" y2="431.5" stroke="#555" stroke-width="1" />
<text x="120.12" y="436.1" font-size="10.8" fill="#222" textLength="15.65" lengthAdjust="spacingAndGlyphs">7.5</text>
<line x1="141.4" y1="488.5" x2="147.6" y2="488.5" stroke="#555" stroke-width="1" />
<text x="120.25" y="492.6" font-size="10.8" fill="#222" textLength="15.48" lengthAdjust="spacingAndGlyphs">5.0</text>
<line x1="141.4" y1="545.5" x2="147.6" y2="545.5" stroke="#555" stroke-width="1" />
<text x="120.13" y="549.4" font-size="10.8" fill="#222" textLength="15.64" lengthAdjust="spacingAndGlyphs">2.5</text>
<line x1="141.4" y1="601.5" x2="147.6" y2="601.5" stroke="#555" stroke-width="1" />
<text x="129.68" y="606.0" font-size="10.8" fill="#222" textLength="6.05" lengthAdjust="spacingAndGlyphs">0</text>
<circle cx="172.7" cy="534.9" r="2.1" fill="#a6a6a6"/>
<circle cx="173.1" cy="540.8" r="2.1" fill="#a6a6a6"/>
<circle cx="176.3" cy="543.1" r="2.1" fill="#a6a6a6"/>
<circle cx="173.7" cy="549.3" r="2.1" fill="#a6a6a6"/>
<circle cx="176" cy="548.7" r="2.1" fill="#a6a6a6"/>
<circle cx="178.9" cy="552.6" r="2.1" fill="#a6a6a6"/>
<circle cx="173.1" cy="559.2" r="2.1" fill="#a6a6a6"/>
<circle cx="176.8" cy="560.2" r="2.1" fill="#a6a6a6"/>
<circle cx="179.2" cy="559.2" r="2.1" fill="#a6a6a6"/>
<circle cx="176.6" cy="562.2" r="2.1" fill="#a6a6a6"/>
<circle cx="173.7" cy="563.3" r="2.1" fill="#a6a6a6"/>
<circle cx="167.2" cy="563.3" r="2.1" fill="#a6a6a6"/>
<circle cx="183.6" cy="564.5" r="2.1" fill="#a6a6a6"/>
<circle cx="161.4" cy="569.2" r="2.1" fill="#a6a6a6"/>
<circle cx="170.7" cy="569.2" r="2.1" fill="#a6a6a6"/>
<circle cx="181.3" cy="569.2" r="2.1" fill="#a6a6a6"/>
<circle cx="190" cy="571.2" r="2.1" fill="#a6a6a6"/>
<circle cx="155.5" cy="573.3" r="2.1" fill="#a6a6a6"/>
<circle cx="159.6" cy="572.7" r="2.1" fill="#a6a6a6"/>
<circle cx="170.7" cy="575" r="2.1" fill="#a6a6a6"/>
<circle cx="178.9" cy="573" r="2.1" fill="#a6a6a6"/>
<circle cx="154.4" cy="578" r="2.1" fill="#a6a6a6"/>
<circle cx="157.9" cy="579.1" r="2.1" fill="#a6a6a6"/>
<circle cx="160.8" cy="578.5" r="2.1" fill="#a6a6a6"/>
<circle cx="163.7" cy="579.7" r="2.1" fill="#a6a6a6"/>
<circle cx="166.6" cy="581.5" r="2.1" fill="#a6a6a6"/>
<circle cx="174.2" cy="580.3" r="2.1" fill="#a6a6a6"/>
<circle cx="181.8" cy="578.9" r="2.1" fill="#a6a6a6"/>
<circle cx="188.3" cy="580.3" r="2.1" fill="#a6a6a6"/>
<circle cx="191.2" cy="579.1" r="2.1" fill="#a6a6a6"/>
<circle cx="193.5" cy="578" r="2.1" fill="#a6a6a6"/>
<circle cx="153.2" cy="583.2" r="2.1" fill="#a6a6a6"/>
<circle cx="156.1" cy="583.2" r="2.1" fill="#a6a6a6"/>
<circle cx="160.2" cy="583.2" r="2.1" fill="#a6a6a6"/>
<circle cx="165.5" cy="583.8" r="2.1" fill="#a6a6a6"/>
<circle cx="185.4" cy="582.6" r="2.1" fill="#a6a6a6"/>
<circle cx="189.4" cy="583.2" r="2.1" fill="#a6a6a6"/>
<circle cx="192.4" cy="582.6" r="2.1" fill="#a6a6a6"/>
<circle cx="196.5" cy="583.2" r="2.1" fill="#a6a6a6"/>
<circle cx="150.8" cy="584.4" r="2.1" fill="#a6a6a6"/>
<circle cx="197.6" cy="585" r="2.1" fill="#a6a6a6"/>
<circle cx="154.4" cy="587.9" r="2.1" fill="#a6a6a6"/>
<circle cx="162.5" cy="587.3" r="2.1" fill="#a6a6a6"/>
<circle cx="169" cy="589.1" r="2.1" fill="#a6a6a6"/>
<circle cx="178.9" cy="588.5" r="2.1" fill="#a6a6a6"/>
<circle cx="182.4" cy="589.6" r="2.1" fill="#a6a6a6"/>
<circle cx="191.8" cy="587.9" r="2.1" fill="#a6a6a6"/>
<circle cx="167.8" cy="592" r="2.1" fill="#a6a6a6"/>
<circle cx="180.1" cy="592" r="2.1" fill="#a6a6a6"/>
<circle cx="185.9" cy="590.8" r="2.1" fill="#a6a6a6"/>
<circle cx="167.2" cy="594.3" r="2.1" fill="#a6a6a6"/>
<circle cx="182.4" cy="594.3" r="2.1" fill="#a6a6a6"/>
<circle cx="173.7" cy="594.9" r="2.1" fill="#a6a6a6"/>
<circle cx="158" cy="581" r="2.1" fill="#a6a6a6"/>
<circle cx="162" cy="585" r="2.1" fill="#a6a6a6"/>
<circle cx="152" cy="580" r="2.1" fill="#a6a6a6"/>
<circle cx="186" cy="585" r="2.1" fill="#a6a6a6"/>
<circle cx="195" cy="580" r="2.1" fill="#a6a6a6"/>
<circle cx="170" cy="585" r="2.1" fill="#a6a6a6"/>
<circle cx="177" cy="583" r="2.1" fill="#a6a6a6"/>
<circle cx="164" cy="576" r="2.1" fill="#a6a6a6"/>
<circle cx="174.2" cy="432.1" r="2" fill="#fff" stroke="#999" stroke-width="0.8"/>
<circle cx="179.3" cy="597.5" r="2" fill="#fff" stroke="#999" stroke-width="0.8"/>
<rect x="150.3" y="570.4" width="48.29999999999998" height="16.100000000000023" fill="rgba(200,228,250,0.38)" stroke="#444" stroke-width="1"/>
<line x1="174.5" y1="553.4" x2="174.5" y2="597.3" stroke="#333" stroke-width="1" />
<line x1="171.20000000000002" y1="553.4" x2="177.6" y2="553.4" stroke="#333" stroke-width="1.2" />
<line x1="171.20000000000002" y1="597.3" x2="177.6" y2="597.3" stroke="#333" stroke-width="1.2" />
<line x1="150.3" y1="575.4" x2="198.6" y2="575.4" stroke="#e0398a" stroke-width="1.6" />
<text x="143.69" y="619.8" font-size="13" fill="#222" textLength="60.43" lengthAdjust="spacingAndGlyphs">Hysteresis</text>
<text x="159.02" y="634.2" font-size="13" fill="#222" textLength="31.87" lengthAdjust="spacingAndGlyphs">width</text>
<line x1="256.5" y1="431.6" x2="256.5" y2="602" stroke="#555" stroke-width="1" />
<line x1="256.5" y1="431.5" x2="262.8" y2="431.5" stroke="#555" stroke-width="1" />
<text x="239.60" y="435.90000000000003" font-size="10.8" fill="#222" textLength="11.12" lengthAdjust="spacingAndGlyphs">25</text>
<line x1="256.5" y1="474.5" x2="262.8" y2="474.5" stroke="#555" stroke-width="1" />
<text x="239.60" y="478.6" font-size="10.8" fill="#222" textLength="11.09" lengthAdjust="spacingAndGlyphs">20</text>
<line x1="256.5" y1="516.5" x2="262.8" y2="516.5" stroke="#555" stroke-width="1" />
<text x="239.32" y="521.0999999999999" font-size="10.8" fill="#222" textLength="11.41" lengthAdjust="spacingAndGlyphs">15</text>
<line x1="256.5" y1="559.5" x2="262.8" y2="559.5" stroke="#555" stroke-width="1" />
<text x="239.32" y="563.5" font-size="10.8" fill="#222" textLength="11.38" lengthAdjust="spacingAndGlyphs">10</text>
<line x1="256.5" y1="601.5" x2="262.8" y2="601.5" stroke="#555" stroke-width="1" />
<text x="244.66" y="605.8" font-size="10.8" fill="#222" textLength="6.10" lengthAdjust="spacingAndGlyphs">5</text>
<text transform="translate(225.5,588.5) rotate(-90)" x="-0.60" y="0" font-size="12.6" fill="#222" textLength="146.52" lengthAdjust="spacingAndGlyphs">Signal-to-noise ratio (dB)</text>
<circle cx="290.5" cy="451.25" r="2.1" fill="#a6a6a6"/>
<circle cx="295" cy="457" r="2.1" fill="#a6a6a6"/>
<circle cx="296.75" cy="457" r="2.1" fill="#a6a6a6"/>
<circle cx="283" cy="462.5" r="2.1" fill="#a6a6a6"/>
<circle cx="294.75" cy="465" r="2.1" fill="#a6a6a6"/>
<circle cx="286" cy="472.5" r="2.1" fill="#a6a6a6"/>
<circle cx="298.75" cy="472.5" r="2.1" fill="#a6a6a6"/>
<circle cx="294.25" cy="485.5" r="2.1" fill="#a6a6a6"/>
<circle cx="297.5" cy="490" r="2.1" fill="#a6a6a6"/>
<circle cx="298" cy="493" r="2.1" fill="#a6a6a6"/>
<circle cx="273.5" cy="493.25" r="2.1" fill="#a6a6a6"/>
<circle cx="284.75" cy="492" r="2.1" fill="#a6a6a6"/>
<circle cx="304.25" cy="493.75" r="2.1" fill="#a6a6a6"/>
<circle cx="281" cy="498.75" r="2.1" fill="#a6a6a6"/>
<circle cx="291.75" cy="500" r="2.1" fill="#a6a6a6"/>
<circle cx="296.75" cy="501.25" r="2.1" fill="#a6a6a6"/>
<circle cx="303" cy="498" r="2.1" fill="#a6a6a6"/>
<circle cx="306.75" cy="503" r="2.1" fill="#a6a6a6"/>
<circle cx="285" cy="504.5" r="2.1" fill="#a6a6a6"/>
<circle cx="281" cy="507" r="2.1" fill="#a6a6a6"/>
<circle cx="278" cy="508" r="2.1" fill="#a6a6a6"/>
<circle cx="274.25" cy="509.5" r="2.1" fill="#a6a6a6"/>
<circle cx="280.5" cy="511.25" r="2.1" fill="#a6a6a6"/>
<circle cx="265.5" cy="508.75" r="2.1" fill="#a6a6a6"/>
<circle cx="316" cy="510" r="2.1" fill="#a6a6a6"/>
<circle cx="271.75" cy="514.5" r="2.1" fill="#a6a6a6"/>
<circle cx="268" cy="516.25" r="2.1" fill="#a6a6a6"/>
<circle cx="290.5" cy="517.5" r="2.1" fill="#a6a6a6"/>
<circle cx="299.5" cy="516.25" r="2.1" fill="#a6a6a6"/>
<circle cx="310" cy="520" r="2.1" fill="#a6a6a6"/>
<circle cx="288.5" cy="524.5" r="2.1" fill="#a6a6a6"/>
<circle cx="305.5" cy="525" r="2.1" fill="#a6a6a6"/>
<circle cx="307.5" cy="526.25" r="2.1" fill="#a6a6a6"/>
<circle cx="285" cy="533.75" r="2.1" fill="#a6a6a6"/>
<circle cx="284.25" cy="534.5" r="2.1" fill="#a6a6a6"/>
<circle cx="290" cy="533" r="2.1" fill="#a6a6a6"/>
<circle cx="304.25" cy="537.5" r="2.1" fill="#a6a6a6"/>
<circle cx="298" cy="541.25" r="2.1" fill="#a6a6a6"/>
<circle cx="301.75" cy="545" r="2.1" fill="#a6a6a6"/>
<circle cx="276" cy="547" r="2.1" fill="#a6a6a6"/>
<circle cx="292.5" cy="548" r="2.1" fill="#a6a6a6"/>
<circle cx="305.5" cy="552" r="2.1" fill="#a6a6a6"/>
<circle cx="276.75" cy="559.5" r="2.1" fill="#a6a6a6"/>
<circle cx="283" cy="560" r="2.1" fill="#a6a6a6"/>
<circle cx="281.75" cy="562.5" r="2.1" fill="#a6a6a6"/>
<circle cx="279.25" cy="565" r="2.1" fill="#a6a6a6"/>
<circle cx="298.5" cy="561.25" r="2.1" fill="#a6a6a6"/>
<circle cx="296.75" cy="563" r="2.1" fill="#a6a6a6"/>
<circle cx="304.25" cy="560" r="2.1" fill="#a6a6a6"/>
<circle cx="278.5" cy="572.5" r="2.1" fill="#a6a6a6"/>
<circle cx="295.5" cy="571.25" r="2.1" fill="#a6a6a6"/>
<circle cx="300.5" cy="573" r="2.1" fill="#a6a6a6"/>
<circle cx="289.75" cy="578.75" r="2.1" fill="#a6a6a6"/>
<circle cx="296.75" cy="581.75" r="2.1" fill="#a6a6a6"/>
<circle cx="286.75" cy="445" r="2" fill="#fff" stroke="#999" stroke-width="0.8"/>
<circle cx="291" cy="596.6" r="2" fill="#fff" stroke="#999" stroke-width="0.8"/>
<rect x="264.8" y="497.4" width="48.5" height="49.80000000000007" fill="rgba(250,222,190,0.38)" stroke="#444" stroke-width="1"/>
<line x1="289.5" y1="486.2" x2="289.5" y2="554.5" stroke="#333" stroke-width="1" />
<line x1="286.1" y1="486.2" x2="292.5" y2="486.2" stroke="#333" stroke-width="1.2" />
<line x1="286.1" y1="554.5" x2="292.5" y2="554.5" stroke="#333" stroke-width="1.2" />
<line x1="264.8" y1="520.5" x2="313.3" y2="520.5" stroke="#e0398a" stroke-width="1.6" />
<text x="257.90" y="619.8" font-size="13" fill="#222" textLength="58.47" lengthAdjust="spacingAndGlyphs">Switch-on</text>
<text x="262.42" y="634.2" font-size="13" fill="#222" textLength="48.68" lengthAdjust="spacingAndGlyphs">contrast</text>
<text x="355.68" y="13.4" font-size="18.5" fill="#000" font-weight="bold" textLength="12.24" lengthAdjust="spacingAndGlyphs" stroke="#000" stroke-width="0.9" stroke-linejoin="round">d</text>
<line x1="377.5" y1="17" x2="377.5" y2="601.5" stroke="#555" stroke-width="1" />
<line x1="377.2" y1="601.5" x2="678" y2="601.5" stroke="#555" stroke-width="1" />
<line x1="377.5" y1="601" x2="377.5" y2="594.5" stroke="#555" stroke-width="1" />
<text x="369.26" y="615" font-size="10.3" fill="#222" textLength="16.28" lengthAdjust="spacingAndGlyphs">1.5</text>
<line x1="501.5" y1="601" x2="501.5" y2="594.5" stroke="#555" stroke-width="1" />
<text x="493.85" y="615" font-size="10.3" fill="#222" textLength="15.92" lengthAdjust="spacingAndGlyphs">2.0</text>
<line x1="598.5" y1="601" x2="598.5" y2="594.5" stroke="#555" stroke-width="1" />
<text x="590.25" y="615" font-size="10.3" fill="#222" textLength="15.96" lengthAdjust="spacingAndGlyphs">2.5</text>
<line x1="677.5" y1="601" x2="677.5" y2="594.5" stroke="#555" stroke-width="1" />
<text x="669.16" y="615" font-size="10.3" fill="#222" textLength="15.78" lengthAdjust="spacingAndGlyphs">3.0</text>
<text x="527.75" y="638.9" font-size="12.9" text-anchor="middle" fill="#222">Power density (kW cm<tspan font-size="8.5" dy="-4.8">−2</tspan><tspan dy="4.8">)</tspan></text>
<text transform="translate(365,325.4) rotate(-90)" x="-1.27" y="0" font-size="11.7" fill="#222" textLength="51.09" lengthAdjust="spacingAndGlyphs">Intensity</text>
<text x="609.10" y="16.4" font-size="12.8" fill="#222" textLength="77.10" lengthAdjust="spacingAndGlyphs">Temperature</text>
<text x="515.3" y="173.9" font-size="12.3" fill="#222" textLength="31.9" lengthAdjust="spacingAndGlyphs"><tspan font-style="italic">s</tspan> = 70</text>
<text x="651.57" y="34.7" font-size="12.6" fill="#222" textLength="35.18" lengthAdjust="spacingAndGlyphs">170 K</text>
<clipPath id="cp170"><rect x="378" y="0" width="310" height="135"/></clipPath>
<g clip-path="url(#cp170)">
<polyline points="382.2,104.8 389.7,108.0 400.3,116.6 412.8,107.1 419.8,104.8 434.3,122.0 443.3,116.6 449.7,104.8 458.3,110.9 467.8,110.9 473.9,109.3 484.7,122.2 491.5,116.6 504.0,119.3 509.2,132.0 521.6,103.0 527.8,92.9 537.9,83.8 547.2,76.8 556.5,70.9 563.6,74.2 575.2,65.6 588.1,62.1 597.9,58.6 604.0,55.5 611.9,55.0 616.8,53.2 625.5,51.5 632.5,51.1 645.3,50.4 657.0,45.7 665.2,46.9 671.5,44.1 677.3,42.7" fill="none" stroke="#f52835" stroke-width="1.1" stroke-linejoin="round" />
<polyline points="377.8,115.5 380.7,114.3 398.1,110.9 407.1,116.6 415.0,114.3 422.1,132.0 433.4,116.6 440.6,122.2 450.3,132.0 458.3,109.3 467.8,109.3 475.2,119.3 485.9,110.9 490.4,113.2 502.2,122.0 508.5,105.9 514.8,104.8 527.5,87.1 540.7,88.0 545.3,84.3 550.7,76.8 560.0,68.6 571.0,65.6 580.4,64.4 585.0,61.4 592.0,56.9 602.1,56.7 608.0,55.0 619.6,53.2 625.5,55.5 634.1,49.9 640.2,49.2 648.8,49.0 656.5,47.3 664.5,46.4 670.3,46.4" fill="none" stroke="#42a8f2" stroke-width="1.1" stroke-linejoin="round" />
<circle cx="382.2" cy="104.8" r="2.45" fill="#fcd5d8" stroke="#f52835" stroke-width="1.1"/>
<circle cx="389.7" cy="108.0" r="2.45" fill="#fcd5d8" stroke="#f52835" stroke-width="1.1"/>
<circle cx="400.3" cy="116.6" r="2.45" fill="#fcd5d8" stroke="#f52835" stroke-width="1.1"/>
<circle cx="412.8" cy="107.1" r="2.45" fill="#fcd5d8" stroke="#f52835" stroke-width="1.1"/>
<circle cx="419.8" cy="104.8" r="2.45" fill="#fcd5d8" stroke="#f52835" stroke-width="1.1"/>
<circle cx="434.3" cy="122.0" r="2.45" fill="#fcd5d8" stroke="#f52835" stroke-width="1.1"/>
<circle cx="443.3" cy="116.6" r="2.45" fill="#fcd5d8" stroke="#f52835" stroke-width="1.1"/>
<circle cx="449.7" cy="104.8" r="2.45" fill="#fcd5d8" stroke="#f52835" stroke-width="1.1"/>
<circle cx="458.3" cy="110.9" r="2.45" fill="#fcd5d8" stroke="#f52835" stroke-width="1.1"/>
<circle cx="467.8" cy="110.9" r="2.45" fill="#fcd5d8" stroke="#f52835" stroke-width="1.1"/>
<circle cx="473.9" cy="109.3" r="2.45" fill="#fcd5d8" stroke="#f52835" stroke-width="1.1"/>
<circle cx="484.7" cy="122.2" r="2.45" fill="#fcd5d8" stroke="#f52835" stroke-width="1.1"/>
<circle cx="491.5" cy="116.6" r="2.45" fill="#fcd5d8" stroke="#f52835" stroke-width="1.1"/>
<circle cx="504.0" cy="119.3" r="2.45" fill="#fcd5d8" stroke="#f52835" stroke-width="1.1"/>
<circle cx="509.2" cy="132.0" r="2.45" fill="#fcd5d8" stroke="#f52835" stroke-width="1.1"/>
<circle cx="521.6" cy="103.0" r="2.45" fill="#fcd5d8" stroke="#f52835" stroke-width="1.1"/>
<circle cx="527.8" cy="92.9" r="2.45" fill="#fcd5d8" stroke="#f52835" stroke-width="1.1"/>
<circle cx="537.9" cy="83.8" r="2.45" fill="#fcd5d8" stroke="#f52835" stroke-width="1.1"/>
<circle cx="547.2" cy="76.8" r="2.45" fill="#fcd5d8" stroke="#f52835" stroke-width="1.1"/>
<circle cx="556.5" cy="70.9" r="2.45" fill="#fcd5d8" stroke="#f52835" stroke-width="1.1"/>
<circle cx="563.6" cy="74.2" r="2.45" fill="#fcd5d8" stroke="#f52835" stroke-width="1.1"/>
<circle cx="575.2" cy="65.6" r="2.45" fill="#fcd5d8" stroke="#f52835" stroke-width="1.1"/>
<circle cx="588.1" cy="62.1" r="2.45" fill="#fcd5d8" stroke="#f52835" stroke-width="1.1"/>
<circle cx="597.9" cy="58.6" r="2.45" fill="#fcd5d8" stroke="#f52835" stroke-width="1.1"/>
<circle cx="604.0" cy="55.5" r="2.45" fill="#fcd5d8" stroke="#f52835" stroke-width="1.1"/>
<circle cx="611.9" cy="55.0" r="2.45" fill="#fcd5d8" stroke="#f52835" stroke-width="1.1"/>
<circle cx="616.8" cy="53.2" r="2.45" fill="#fcd5d8" stroke="#f52835" stroke-width="1.1"/>
<circle cx="625.5" cy="51.5" r="2.45" fill="#fcd5d8" stroke="#f52835" stroke-width="1.1"/>
<circle cx="632.5" cy="51.1" r="2.45" fill="#fcd5d8" stroke="#f52835" stroke-width="1.1"/>
<circle cx="645.3" cy="50.4" r="2.45" fill="#fcd5d8" stroke="#f52835" stroke-width="1.1"/>
<circle cx="657.0" cy="45.7" r="2.45" fill="#fcd5d8" stroke="#f52835" stroke-width="1.1"/>
<circle cx="665.2" cy="46.9" r="2.45" fill="#fcd5d8" stroke="#f52835" stroke-width="1.1"/>
<circle cx="671.5" cy="44.1" r="2.45" fill="#fcd5d8" stroke="#f52835" stroke-width="1.1"/>
<circle cx="677.3" cy="42.7" r="2.45" fill="#fcd5d8" stroke="#f52835" stroke-width="1.1"/>
<circle cx="380.7" cy="114.3" r="2.45" fill="#d5ebfc" stroke="#42a8f2" stroke-width="1.1"/>
<circle cx="398.1" cy="110.9" r="2.45" fill="#d5ebfc" stroke="#42a8f2" stroke-width="1.1"/>
<circle cx="407.1" cy="116.6" r="2.45" fill="#d5ebfc" stroke="#42a8f2" stroke-width="1.1"/>
<circle cx="415.0" cy="114.3" r="2.45" fill="#d5ebfc" stroke="#42a8f2" stroke-width="1.1"/>
<circle cx="422.1" cy="132.0" r="2.45" fill="#d5ebfc" stroke="#42a8f2" stroke-width="1.1"/>
<circle cx="433.4" cy="116.6" r="2.45" fill="#d5ebfc" stroke="#42a8f2" stroke-width="1.1"/>
<circle cx="440.6" cy="122.2" r="2.45" fill="#d5ebfc" stroke="#42a8f2" stroke-width="1.1"/>
<circle cx="450.3" cy="132.0" r="2.45" fill="#d5ebfc" stroke="#42a8f2" stroke-width="1.1"/>
<circle cx="458.3" cy="109.3" r="2.45" fill="#d5ebfc" stroke="#42a8f2" stroke-width="1.1"/>
<circle cx="467.8" cy="109.3" r="2.45" fill="#d5ebfc" stroke="#42a8f2" stroke-width="1.1"/>
<circle cx="475.2" cy="119.3" r="2.45" fill="#d5ebfc" stroke="#42a8f2" stroke-width="1.1"/>
<circle cx="485.9" cy="110.9" r="2.45" fill="#d5ebfc" stroke="#42a8f2" stroke-width="1.1"/>
<circle cx="490.4" cy="113.2" r="2.45" fill="#d5ebfc" stroke="#42a8f2" stroke-width="1.1"/>
<circle cx="502.2" cy="122.0" r="2.45" fill="#d5ebfc" stroke="#42a8f2" stroke-width="1.1"/>
<circle cx="508.5" cy="105.9" r="2.45" fill="#d5ebfc" stroke="#42a8f2" stroke-width="1.1"/>
<circle cx="514.8" cy="104.8" r="2.45" fill="#d5ebfc" stroke="#42a8f2" stroke-width="1.1"/>
<circle cx="527.5" cy="87.1" r="2.45" fill="#d5ebfc" stroke="#42a8f2" stroke-width="1.1"/>
<circle cx="540.7" cy="88.0" r="2.45" fill="#d5ebfc" stroke="#42a8f2" stroke-width="1.1"/>
<circle cx="545.3" cy="84.3" r="2.45" fill="#d5ebfc" stroke="#42a8f2" stroke-width="1.1"/>
<circle cx="550.7" cy="76.8" r="2.45" fill="#d5ebfc" stroke="#42a8f2" stroke-width="1.1"/>
<circle cx="560.0" cy="68.6" r="2.45" fill="#d5ebfc" stroke="#42a8f2" stroke-width="1.1"/>
<circle cx="571.0" cy="65.6" r="2.45" fill="#d5ebfc" stroke="#42a8f2" stroke-width="1.1"/>
<circle cx="580.4" cy="64.4" r="2.45" fill="#d5ebfc" stroke="#42a8f2" stroke-width="1.1"/>
<circle cx="585.0" cy="61.4" r="2.45" fill="#d5ebfc" stroke="#42a8f2" stroke-width="1.1"/>
<circle cx="592.0" cy="56.9" r="2.45" fill="#d5ebfc" stroke="#42a8f2" stroke-width="1.1"/>
<circle cx="602.1" cy="56.7" r="2.45" fill="#d5ebfc" stroke="#42a8f2" stroke-width="1.1"/>
<circle cx="608.0" cy="55.0" r="2.45" fill="#d5ebfc" stroke="#42a8f2" stroke-width="1.1"/>
<circle cx="619.6" cy="53.2" r="2.45" fill="#d5ebfc" stroke="#42a8f2" stroke-width="1.1"/>
<circle cx="625.5" cy="55.5" r="2.45" fill="#d5ebfc" stroke="#42a8f2" stroke-width="1.1"/>
<circle cx="634.1" cy="49.9" r="2.45" fill="#d5ebfc" stroke="#42a8f2" stroke-width="1.1"/>
<circle cx="640.2" cy="49.2" r="2.45" fill="#d5ebfc" stroke="#42a8f2" stroke-width="1.1"/>
<circle cx="648.8" cy="49.0" r="2.45" fill="#d5ebfc" stroke="#42a8f2" stroke-width="1.1"/>
<circle cx="656.5" cy="47.3" r="2.45" fill="#d5ebfc" stroke="#42a8f2" stroke-width="1.1"/>
<circle cx="664.5" cy="46.4" r="2.45" fill="#d5ebfc" stroke="#42a8f2" stroke-width="1.1"/>
<circle cx="670.3" cy="46.4" r="2.45" fill="#d5ebfc" stroke="#42a8f2" stroke-width="1.1"/>
</g>
<text x="651.57" y="102.8" font-size="12.6" fill="#222" textLength="35.18" lengthAdjust="spacingAndGlyphs">160 K</text>
<clipPath id="cp160"><rect x="378" y="0" width="310" height="700"/></clipPath>
<g clip-path="url(#cp160)">
<polyline points="385.9,184.3 395.4,186.1 404.4,190.0 413.0,180.9 422.5,185.4 435.0,186.1 443.6,191.6 453.1,186.6 461.4,186.1 470.5,187.7 481.4,186.6 490.0,183.9 496.7,190.0 504.0,183.2 513.5,159.9 519.8,152.6 528.5,146.1 536.7,143.3 546.0,137.9 553.0,136.3 565.2,133.2 569.9,131.6 580.4,128.6 586.9,126.2 595.1,123.9 602.1,123.4 611.4,119.9 619.2,120.4 627.1,118.0 634.3,116.9 646.0,114.5 653.0,113.4 658.9,112.2 667.5,110.6 675.7,110.6" fill="none" stroke="#f52835" stroke-width="1.1" stroke-linejoin="round" />
<polyline points="382.2,183.9 392.0,186.1 401.7,186.1 413.9,185.0 422.5,185.4 434.5,183.9 440.6,186.1 450.1,184.8 458.3,184.8 468.2,186.6 473.0,185.4 483.6,183.4 490.9,185.4 501.7,183.9 510.8,156.7 518.7,152.2 527.7,144.0 536.7,139.1 545.6,136.7 553.5,133.2 564.7,130.9 568.7,128.6 579.4,126.7 586.2,124.6 593.5,122.2 598.6,122.7 607.9,119.9 618.5,118.0 622.0,116.9 629.0,115.7 636.7,114.5 643.0,113.8 651.9,112.7 657.7,112.2 664.0,111.5 673.8,109.4" fill="none" stroke="#42a8f2" stroke-width="1.1" stroke-linejoin="round" />
<circle cx="385.9" cy="184.3" r="2.45" fill="#fcd5d8" stroke="#f52835" stroke-width="1.1"/>
<circle cx="395.4" cy="186.1" r="2.45" fill="#fcd5d8" stroke="#f52835" stroke-width="1.1"/>
<circle cx="404.4" cy="190.0" r="2.45" fill="#fcd5d8" stroke="#f52835" stroke-width="1.1"/>
<circle cx="413.0" cy="180.9" r="2.45" fill="#fcd5d8" stroke="#f52835" stroke-width="1.1"/>
<circle cx="422.5" cy="185.4" r="2.45" fill="#fcd5d8" stroke="#f52835" stroke-width="1.1"/>
<circle cx="435.0" cy="186.1" r="2.45" fill="#fcd5d8" stroke="#f52835" stroke-width="1.1"/>
<circle cx="443.6" cy="191.6" r="2.45" fill="#fcd5d8" stroke="#f52835" stroke-width="1.1"/>
<circle cx="453.1" cy="186.6" r="2.45" fill="#fcd5d8" stroke="#f52835" stroke-width="1.1"/>
<circle cx="461.4" cy="186.1" r="2.45" fill="#fcd5d8" stroke="#f52835" stroke-width="1.1"/>
<circle cx="470.5" cy="187.7" r="2.45" fill="#fcd5d8" stroke="#f52835" stroke-width="1.1"/>
<circle cx="481.4" cy="186.6" r="2.45" fill="#fcd5d8" stroke="#f52835" stroke-width="1.1"/>
<circle cx="490.0" cy="183.9" r="2.45" fill="#fcd5d8" stroke="#f52835" stroke-width="1.1"/>
<circle cx="496.7" cy="190.0" r="2.45" fill="#fcd5d8" stroke="#f52835" stroke-width="1.1"/>
<circle cx="504.0" cy="183.2" r="2.45" fill="#fcd5d8" stroke="#f52835" stroke-width="1.1"/>
<circle cx="513.5" cy="159.9" r="2.45" fill="#fcd5d8" stroke="#f52835" stroke-width="1.1"/>
<circle cx="519.8" cy="152.6" r="2.45" fill="#fcd5d8" stroke="#f52835" stroke-width="1.1"/>
<circle cx="528.5" cy="146.1" r="2.45" fill="#fcd5d8" stroke="#f52835" stroke-width="1.1"/>
<circle cx="536.7" cy="143.3" r="2.45" fill="#fcd5d8" stroke="#f52835" stroke-width="1.1"/>
<circle cx="546.0" cy="137.9" r="2.45" fill="#fcd5d8" stroke="#f52835" stroke-width="1.1"/>
<circle cx="553.0" cy="136.3" r="2.45" fill="#fcd5d8" stroke="#f52835" stroke-width="1.1"/>
<circle cx="565.2" cy="133.2" r="2.45" fill="#fcd5d8" stroke="#f52835" stroke-width="1.1"/>
<circle cx="569.9" cy="131.6" r="2.45" fill="#fcd5d8" stroke="#f52835" stroke-width="1.1"/>
<circle cx="580.4" cy="128.6" r="2.45" fill="#fcd5d8" stroke="#f52835" stroke-width="1.1"/>
<circle cx="586.9" cy="126.2" r="2.45" fill="#fcd5d8" stroke="#f52835" stroke-width="1.1"/>
<circle cx="595.1" cy="123.9" r="2.45" fill="#fcd5d8" stroke="#f52835" stroke-width="1.1"/>
<circle cx="602.1" cy="123.4" r="2.45" fill="#fcd5d8" stroke="#f52835" stroke-width="1.1"/>
<circle cx="611.4" cy="119.9" r="2.45" fill="#fcd5d8" stroke="#f52835" stroke-width="1.1"/>
<circle cx="619.2" cy="120.4" r="2.45" fill="#fcd5d8" stroke="#f52835" stroke-width="1.1"/>
<circle cx="627.1" cy="118.0" r="2.45" fill="#fcd5d8" stroke="#f52835" stroke-width="1.1"/>
<circle cx="634.3" cy="116.9" r="2.45" fill="#fcd5d8" stroke="#f52835" stroke-width="1.1"/>
<circle cx="646.0" cy="114.5" r="2.45" fill="#fcd5d8" stroke="#f52835" stroke-width="1.1"/>
<circle cx="653.0" cy="113.4" r="2.45" fill="#fcd5d8" stroke="#f52835" stroke-width="1.1"/>
<circle cx="658.9" cy="112.2" r="2.45" fill="#fcd5d8" stroke="#f52835" stroke-width="1.1"/>
<circle cx="667.5" cy="110.6" r="2.45" fill="#fcd5d8" stroke="#f52835" stroke-width="1.1"/>
<circle cx="675.7" cy="110.6" r="2.45" fill="#fcd5d8" stroke="#f52835" stroke-width="1.1"/>
<circle cx="382.2" cy="183.9" r="2.45" fill="#d5ebfc" stroke="#42a8f2" stroke-width="1.1"/>
<circle cx="392.0" cy="186.1" r="2.45" fill="#d5ebfc" stroke="#42a8f2" stroke-width="1.1"/>
<circle cx="401.7" cy="186.1" r="2.45" fill="#d5ebfc" stroke="#42a8f2" stroke-width="1.1"/>
<circle cx="413.9" cy="185.0" r="2.45" fill="#d5ebfc" stroke="#42a8f2" stroke-width="1.1"/>
<circle cx="422.5" cy="185.4" r="2.45" fill="#d5ebfc" stroke="#42a8f2" stroke-width="1.1"/>
<circle cx="434.5" cy="183.9" r="2.45" fill="#d5ebfc" stroke="#42a8f2" stroke-width="1.1"/>
<circle cx="440.6" cy="186.1" r="2.45" fill="#d5ebfc" stroke="#42a8f2" stroke-width="1.1"/>
<circle cx="450.1" cy="184.8" r="2.45" fill="#d5ebfc" stroke="#42a8f2" stroke-width="1.1"/>
<circle cx="458.3" cy="184.8" r="2.45" fill="#d5ebfc" stroke="#42a8f2" stroke-width="1.1"/>
<circle cx="468.2" cy="186.6" r="2.45" fill="#d5ebfc" stroke="#42a8f2" stroke-width="1.1"/>
<circle cx="473.0" cy="185.4" r="2.45" fill="#d5ebfc" stroke="#42a8f2" stroke-width="1.1"/>
<circle cx="483.6" cy="183.4" r="2.45" fill="#d5ebfc" stroke="#42a8f2" stroke-width="1.1"/>
<circle cx="490.9" cy="185.4" r="2.45" fill="#d5ebfc" stroke="#42a8f2" stroke-width="1.1"/>
<circle cx="501.7" cy="183.9" r="2.45" fill="#d5ebfc" stroke="#42a8f2" stroke-width="1.1"/>
<circle cx="510.8" cy="156.7" r="2.45" fill="#d5ebfc" stroke="#42a8f2" stroke-width="1.1"/>
<circle cx="518.7" cy="152.2" r="2.45" fill="#d5ebfc" stroke="#42a8f2" stroke-width="1.1"/>
<circle cx="527.7" cy="144.0" r="2.45" fill="#d5ebfc" stroke="#42a8f2" stroke-width="1.1"/>
<circle cx="536.7" cy="139.1" r="2.45" fill="#d5ebfc" stroke="#42a8f2" stroke-width="1.1"/>
<circle cx="545.6" cy="136.7" r="2.45" fill="#d5ebfc" stroke="#42a8f2" stroke-width="1.1"/>
<circle cx="553.5" cy="133.2" r="2.45" fill="#d5ebfc" stroke="#42a8f2" stroke-width="1.1"/>
<circle cx="564.7" cy="130.9" r="2.45" fill="#d5ebfc" stroke="#42a8f2" stroke-width="1.1"/>
<circle cx="568.7" cy="128.6" r="2.45" fill="#d5ebfc" stroke="#42a8f2" stroke-width="1.1"/>
<circle cx="579.4" cy="126.7" r="2.45" fill="#d5ebfc" stroke="#42a8f2" stroke-width="1.1"/>
<circle cx="586.2" cy="124.6" r="2.45" fill="#d5ebfc" stroke="#42a8f2" stroke-width="1.1"/>
<circle cx="593.5" cy="122.2" r="2.45" fill="#d5ebfc" stroke="#42a8f2" stroke-width="1.1"/>
<circle cx="598.6" cy="122.7" r="2.45" fill="#d5ebfc" stroke="#42a8f2" stroke-width="1.1"/>
<circle cx="607.9" cy="119.9" r="2.45" fill="#d5ebfc" stroke="#42a8f2" stroke-width="1.1"/>
<circle cx="618.5" cy="118.0" r="2.45" fill="#d5ebfc" stroke="#42a8f2" stroke-width="1.1"/>
<circle cx="622.0" cy="116.9" r="2.45" fill="#d5ebfc" stroke="#42a8f2" stroke-width="1.1"/>
<circle cx="629.0" cy="115.7" r="2.45" fill="#d5ebfc" stroke="#42a8f2" stroke-width="1.1"/>
<circle cx="636.7" cy="114.5" r="2.45" fill="#d5ebfc" stroke="#42a8f2" stroke-width="1.1"/>
<circle cx="643.0" cy="113.8" r="2.45" fill="#d5ebfc" stroke="#42a8f2" stroke-width="1.1"/>
<circle cx="651.9" cy="112.7" r="2.45" fill="#d5ebfc" stroke="#42a8f2" stroke-width="1.1"/>
<circle cx="657.7" cy="112.2" r="2.45" fill="#d5ebfc" stroke="#42a8f2" stroke-width="1.1"/>
<circle cx="664.0" cy="111.5" r="2.45" fill="#d5ebfc" stroke="#42a8f2" stroke-width="1.1"/>
<circle cx="673.8" cy="109.4" r="2.45" fill="#d5ebfc" stroke="#42a8f2" stroke-width="1.1"/>
</g>
<text x="651.57" y="174.9" font-size="12.6" fill="#222" textLength="35.18" lengthAdjust="spacingAndGlyphs">150 K</text>
<clipPath id="cp150"><rect x="378" y="0" width="310" height="700"/></clipPath>
<g clip-path="url(#cp150)">
<polyline points="380.0,246.4 393.1,251.1 397.6,256.6 408.5,259.3 420.9,254.3 430.4,253.9 437.2,252.7 449.0,243.4 460.5,249.3 465.1,265.6 475.2,261.6 484.1,270.8 493.1,252.5 501.0,252.7 510.1,259.3 519.4,254.3 528.8,212.8 536.0,209.6 545.6,207.2 554.9,205.6 561.9,200.9 569.4,199.8 577.6,200.9 583.9,197.2 591.6,200.7 600.2,193.2 609.6,193.2 617.3,193.2 626.2,190.9 632.0,189.3 640.7,188.6 644.6,188.6 655.8,186.2 662.9,185.0 669.4,185.0" fill="none" stroke="#f52835" stroke-width="1.1" stroke-linejoin="round" />
<polyline points="380.0,248.7 389.7,256.6 401.0,250.9 408.9,243.4 421.4,246.4 430.4,254.3 442.2,246.4 451.3,246.4 459.2,254.3 466.6,246.4 473.4,265.6 483.6,252.7 490.0,256.6 497.7,237.3 509.0,219.7 520.3,216.5 527.5,209.3 539.0,210.7 548.4,208.4 554.2,202.6 560.5,203.7 571.3,200.9 575.2,197.9 589.7,195.6 595.6,194.9 601.6,193.9 609.1,192.5 618.9,189.7 623.1,189.7 629.7,187.4 638.8,187.4 641.4,187.4 650.7,184.6 661.7,182.7 666.4,184.6 676.4,183.2" fill="none" stroke="#42a8f2" stroke-width="1.1" stroke-linejoin="round" />
<circle cx="380.0" cy="246.4" r="2.45" fill="#fcd5d8" stroke="#f52835" stroke-width="1.1"/>
<circle cx="393.1" cy="251.1" r="2.45" fill="#fcd5d8" stroke="#f52835" stroke-width="1.1"/>
<circle cx="397.6" cy="256.6" r="2.45" fill="#fcd5d8" stroke="#f52835" stroke-width="1.1"/>
<circle cx="408.5" cy="259.3" r="2.45" fill="#fcd5d8" stroke="#f52835" stroke-width="1.1"/>
<circle cx="420.9" cy="254.3" r="2.45" fill="#fcd5d8" stroke="#f52835" stroke-width="1.1"/>
<circle cx="430.4" cy="253.9" r="2.45" fill="#fcd5d8" stroke="#f52835" stroke-width="1.1"/>
<circle cx="437.2" cy="252.7" r="2.45" fill="#fcd5d8" stroke="#f52835" stroke-width="1.1"/>
<circle cx="449.0" cy="243.4" r="2.45" fill="#fcd5d8" stroke="#f52835" stroke-width="1.1"/>
<circle cx="460.5" cy="249.3" r="2.45" fill="#fcd5d8" stroke="#f52835" stroke-width="1.1"/>
<circle cx="465.1" cy="265.6" r="2.45" fill="#fcd5d8" stroke="#f52835" stroke-width="1.1"/>
<circle cx="475.2" cy="261.6" r="2.45" fill="#fcd5d8" stroke="#f52835" stroke-width="1.1"/>
<circle cx="484.1" cy="270.8" r="2.45" fill="#fcd5d8" stroke="#f52835" stroke-width="1.1"/>
<circle cx="493.1" cy="252.5" r="2.45" fill="#fcd5d8" stroke="#f52835" stroke-width="1.1"/>
<circle cx="501.0" cy="252.7" r="2.45" fill="#fcd5d8" stroke="#f52835" stroke-width="1.1"/>
<circle cx="510.1" cy="259.3" r="2.45" fill="#fcd5d8" stroke="#f52835" stroke-width="1.1"/>
<circle cx="519.4" cy="254.3" r="2.45" fill="#fcd5d8" stroke="#f52835" stroke-width="1.1"/>
<circle cx="528.8" cy="212.8" r="2.45" fill="#fcd5d8" stroke="#f52835" stroke-width="1.1"/>
<circle cx="536.0" cy="209.6" r="2.45" fill="#fcd5d8" stroke="#f52835" stroke-width="1.1"/>
<circle cx="545.6" cy="207.2" r="2.45" fill="#fcd5d8" stroke="#f52835" stroke-width="1.1"/>
<circle cx="554.9" cy="205.6" r="2.45" fill="#fcd5d8" stroke="#f52835" stroke-width="1.1"/>
<circle cx="561.9" cy="200.9" r="2.45" fill="#fcd5d8" stroke="#f52835" stroke-width="1.1"/>
<circle cx="569.4" cy="199.8" r="2.45" fill="#fcd5d8" stroke="#f52835" stroke-width="1.1"/>
<circle cx="577.6" cy="200.9" r="2.45" fill="#fcd5d8" stroke="#f52835" stroke-width="1.1"/>
<circle cx="583.9" cy="197.2" r="2.45" fill="#fcd5d8" stroke="#f52835" stroke-width="1.1"/>
<circle cx="591.6" cy="200.7" r="2.45" fill="#fcd5d8" stroke="#f52835" stroke-width="1.1"/>
<circle cx="600.2" cy="193.2" r="2.45" fill="#fcd5d8" stroke="#f52835" stroke-width="1.1"/>
<circle cx="609.6" cy="193.2" r="2.45" fill="#fcd5d8" stroke="#f52835" stroke-width="1.1"/>
<circle cx="617.3" cy="193.2" r="2.45" fill="#fcd5d8" stroke="#f52835" stroke-width="1.1"/>
<circle cx="626.2" cy="190.9" r="2.45" fill="#fcd5d8" stroke="#f52835" stroke-width="1.1"/>
<circle cx="632.0" cy="189.3" r="2.45" fill="#fcd5d8" stroke="#f52835" stroke-width="1.1"/>
<circle cx="640.7" cy="188.6" r="2.45" fill="#fcd5d8" stroke="#f52835" stroke-width="1.1"/>
<circle cx="644.6" cy="188.6" r="2.45" fill="#fcd5d8" stroke="#f52835" stroke-width="1.1"/>
<circle cx="655.8" cy="186.2" r="2.45" fill="#fcd5d8" stroke="#f52835" stroke-width="1.1"/>
<circle cx="662.9" cy="185.0" r="2.45" fill="#fcd5d8" stroke="#f52835" stroke-width="1.1"/>
<circle cx="669.4" cy="185.0" r="2.45" fill="#fcd5d8" stroke="#f52835" stroke-width="1.1"/>
<circle cx="380.0" cy="248.7" r="2.45" fill="#d5ebfc" stroke="#42a8f2" stroke-width="1.1"/>
<circle cx="389.7" cy="256.6" r="2.45" fill="#d5ebfc" stroke="#42a8f2" stroke-width="1.1"/>
<circle cx="401.0" cy="250.9" r="2.45" fill="#d5ebfc" stroke="#42a8f2" stroke-width="1.1"/>
<circle cx="408.9" cy="243.4" r="2.45" fill="#d5ebfc" stroke="#42a8f2" stroke-width="1.1"/>
<circle cx="421.4" cy="246.4" r="2.45" fill="#d5ebfc" stroke="#42a8f2" stroke-width="1.1"/>
<circle cx="430.4" cy="254.3" r="2.45" fill="#d5ebfc" stroke="#42a8f2" stroke-width="1.1"/>
<circle cx="442.2" cy="246.4" r="2.45" fill="#d5ebfc" stroke="#42a8f2" stroke-width="1.1"/>
<circle cx="451.3" cy="246.4" r="2.45" fill="#d5ebfc" stroke="#42a8f2" stroke-width="1.1"/>
<circle cx="459.2" cy="254.3" r="2.45" fill="#d5ebfc" stroke="#42a8f2" stroke-width="1.1"/>
<circle cx="466.6" cy="246.4" r="2.45" fill="#d5ebfc" stroke="#42a8f2" stroke-width="1.1"/>
<circle cx="473.4" cy="265.6" r="2.45" fill="#d5ebfc" stroke="#42a8f2" stroke-width="1.1"/>
<circle cx="483.6" cy="252.7" r="2.45" fill="#d5ebfc" stroke="#42a8f2" stroke-width="1.1"/>
<circle cx="490.0" cy="256.6" r="2.45" fill="#d5ebfc" stroke="#42a8f2" stroke-width="1.1"/>
<circle cx="497.7" cy="237.3" r="2.45" fill="#d5ebfc" stroke="#42a8f2" stroke-width="1.1"/>
<circle cx="509.0" cy="219.7" r="2.45" fill="#d5ebfc" stroke="#42a8f2" stroke-width="1.1"/>
<circle cx="520.3" cy="216.5" r="2.45" fill="#d5ebfc" stroke="#42a8f2" stroke-width="1.1"/>
<circle cx="527.5" cy="209.3" r="2.45" fill="#d5ebfc" stroke="#42a8f2" stroke-width="1.1"/>
<circle cx="539.0" cy="210.7" r="2.45" fill="#d5ebfc" stroke="#42a8f2" stroke-width="1.1"/>
<circle cx="548.4" cy="208.4" r="2.45" fill="#d5ebfc" stroke="#42a8f2" stroke-width="1.1"/>
<circle cx="554.2" cy="202.6" r="2.45" fill="#d5ebfc" stroke="#42a8f2" stroke-width="1.1"/>
<circle cx="560.5" cy="203.7" r="2.45" fill="#d5ebfc" stroke="#42a8f2" stroke-width="1.1"/>
<circle cx="571.3" cy="200.9" r="2.45" fill="#d5ebfc" stroke="#42a8f2" stroke-width="1.1"/>
<circle cx="575.2" cy="197.9" r="2.45" fill="#d5ebfc" stroke="#42a8f2" stroke-width="1.1"/>
<circle cx="589.7" cy="195.6" r="2.45" fill="#d5ebfc" stroke="#42a8f2" stroke-width="1.1"/>
<circle cx="595.6" cy="194.9" r="2.45" fill="#d5ebfc" stroke="#42a8f2" stroke-width="1.1"/>
<circle cx="601.6" cy="193.9" r="2.45" fill="#d5ebfc" stroke="#42a8f2" stroke-width="1.1"/>
<circle cx="609.1" cy="192.5" r="2.45" fill="#d5ebfc" stroke="#42a8f2" stroke-width="1.1"/>
<circle cx="618.9" cy="189.7" r="2.45" fill="#d5ebfc" stroke="#42a8f2" stroke-width="1.1"/>
<circle cx="623.1" cy="189.7" r="2.45" fill="#d5ebfc" stroke="#42a8f2" stroke-width="1.1"/>
<circle cx="629.7" cy="187.4" r="2.45" fill="#d5ebfc" stroke="#42a8f2" stroke-width="1.1"/>
<circle cx="638.8" cy="187.4" r="2.45" fill="#d5ebfc" stroke="#42a8f2" stroke-width="1.1"/>
<circle cx="641.4" cy="187.4" r="2.45" fill="#d5ebfc" stroke="#42a8f2" stroke-width="1.1"/>
<circle cx="650.7" cy="184.6" r="2.45" fill="#d5ebfc" stroke="#42a8f2" stroke-width="1.1"/>
<circle cx="661.7" cy="182.7" r="2.45" fill="#d5ebfc" stroke="#42a8f2" stroke-width="1.1"/>
<circle cx="666.4" cy="184.6" r="2.45" fill="#d5ebfc" stroke="#42a8f2" stroke-width="1.1"/>
<circle cx="676.4" cy="183.2" r="2.45" fill="#d5ebfc" stroke="#42a8f2" stroke-width="1.1"/>
</g>
<text x="651.57" y="247" font-size="12.6" fill="#222" textLength="35.18" lengthAdjust="spacingAndGlyphs">140 K</text>
<clipPath id="cp140"><rect x="378" y="0" width="310" height="344.2"/></clipPath>
<g clip-path="url(#cp140)">
<polyline points="377.7,323.8 382.9,333.5 394.9,333.5 404.4,341.9 415.7,336.7 423.0,338.9 434.5,329.0 446.6,349.5 453.1,329.9 460.5,329.9 473.9,338.9 479.1,336.7 486.3,336.7 496.4,353.3 509.0,338.9 515.8,335.1 524.4,325.6 535.5,333.4 544.9,331.5 552.8,278.1 559.7,275.0 563.4,272.9 573.6,269.8 579.9,267.9 587.6,266.7 596.3,267.9 606.8,265.6 613.8,263.2 622.7,263.9 631.3,260.2 638.8,260.9 643.0,260.9 655.8,257.4 667.5,256.2 674.5,255.0" fill="none" stroke="#f52835" stroke-width="1.1" stroke-linejoin="round" />
<polyline points="377.7,335.8 385.9,336.7 397.2,338.9 403.3,338.9 413.5,331.7 422.1,329.0 434.5,333.5 442.2,329.0 452.6,333.5 461.7,331.7 469.6,336.7 476.2,331.7 483.2,336.7 494.5,328.1 506.7,331.7 510.1,323.3 521.0,289.8 533.0,278.1 537.3,283.0 544.6,277.5 557.8,274.0 559.9,271.1 567.5,269.5 578.7,267.2 586.9,266.7 589.3,266.7 600.2,264.4 609.6,262.5 616.1,261.6 619.6,261.6 630.1,259.7 640.2,258.6 647.0,257.9 654.7,258.6 661.2,255.5 669.9,255.0" fill="none" stroke="#42a8f2" stroke-width="1.1" stroke-linejoin="round" />
<circle cx="382.9" cy="333.5" r="2.45" fill="#fcd5d8" stroke="#f52835" stroke-width="1.1"/>
<circle cx="394.9" cy="333.5" r="2.45" fill="#fcd5d8" stroke="#f52835" stroke-width="1.1"/>
<circle cx="404.4" cy="341.9" r="2.45" fill="#fcd5d8" stroke="#f52835" stroke-width="1.1"/>
<circle cx="415.7" cy="336.7" r="2.45" fill="#fcd5d8" stroke="#f52835" stroke-width="1.1"/>
<circle cx="423.0" cy="338.9" r="2.45" fill="#fcd5d8" stroke="#f52835" stroke-width="1.1"/>
<circle cx="434.5" cy="329.0" r="2.45" fill="#fcd5d8" stroke="#f52835" stroke-width="1.1"/>
<circle cx="446.6" cy="349.5" r="2.45" fill="#fcd5d8" stroke="#f52835" stroke-width="1.1"/>
<circle cx="453.1" cy="329.9" r="2.45" fill="#fcd5d8" stroke="#f52835" stroke-width="1.1"/>
<circle cx="460.5" cy="329.9" r="2.45" fill="#fcd5d8" stroke="#f52835" stroke-width="1.1"/>
<circle cx="473.9" cy="338.9" r="2.45" fill="#fcd5d8" stroke="#f52835" stroke-width="1.1"/>
<circle cx="479.1" cy="336.7" r="2.45" fill="#fcd5d8" stroke="#f52835" stroke-width="1.1"/>
<circle cx="486.3" cy="336.7" r="2.45" fill="#fcd5d8" stroke="#f52835" stroke-width="1.1"/>
<circle cx="496.4" cy="353.3" r="2.45" fill="#fcd5d8" stroke="#f52835" stroke-width="1.1"/>
<circle cx="509.0" cy="338.9" r="2.45" fill="#fcd5d8" stroke="#f52835" stroke-width="1.1"/>
<circle cx="515.8" cy="335.1" r="2.45" fill="#fcd5d8" stroke="#f52835" stroke-width="1.1"/>
<circle cx="524.4" cy="325.6" r="2.45" fill="#fcd5d8" stroke="#f52835" stroke-width="1.1"/>
<circle cx="535.5" cy="333.4" r="2.45" fill="#fcd5d8" stroke="#f52835" stroke-width="1.1"/>
<circle cx="544.9" cy="331.5" r="2.45" fill="#fcd5d8" stroke="#f52835" stroke-width="1.1"/>
<circle cx="552.8" cy="278.1" r="2.45" fill="#fcd5d8" stroke="#f52835" stroke-width="1.1"/>
<circle cx="559.7" cy="275.0" r="2.45" fill="#fcd5d8" stroke="#f52835" stroke-width="1.1"/>
<circle cx="563.4" cy="272.9" r="2.45" fill="#fcd5d8" stroke="#f52835" stroke-width="1.1"/>
<circle cx="573.6" cy="269.8" r="2.45" fill="#fcd5d8" stroke="#f52835" stroke-width="1.1"/>
<circle cx="579.9" cy="267.9" r="2.45" fill="#fcd5d8" stroke="#f52835" stroke-width="1.1"/>
<circle cx="587.6" cy="266.7" r="2.45" fill="#fcd5d8" stroke="#f52835" stroke-width="1.1"/>
<circle cx="596.3" cy="267.9" r="2.45" fill="#fcd5d8" stroke="#f52835" stroke-width="1.1"/>
<circle cx="606.8" cy="265.6" r="2.45" fill="#fcd5d8" stroke="#f52835" stroke-width="1.1"/>
<circle cx="613.8" cy="263.2" r="2.45" fill="#fcd5d8" stroke="#f52835" stroke-width="1.1"/>
<circle cx="622.7" cy="263.9" r="2.45" fill="#fcd5d8" stroke="#f52835" stroke-width="1.1"/>
<circle cx="631.3" cy="260.2" r="2.45" fill="#fcd5d8" stroke="#f52835" stroke-width="1.1"/>
<circle cx="638.8" cy="260.9" r="2.45" fill="#fcd5d8" stroke="#f52835" stroke-width="1.1"/>
<circle cx="643.0" cy="260.9" r="2.45" fill="#fcd5d8" stroke="#f52835" stroke-width="1.1"/>
<circle cx="655.8" cy="257.4" r="2.45" fill="#fcd5d8" stroke="#f52835" stroke-width="1.1"/>
<circle cx="667.5" cy="256.2" r="2.45" fill="#fcd5d8" stroke="#f52835" stroke-width="1.1"/>
<circle cx="674.5" cy="255.0" r="2.45" fill="#fcd5d8" stroke="#f52835" stroke-width="1.1"/>
<circle cx="385.9" cy="336.7" r="2.45" fill="#d5ebfc" stroke="#42a8f2" stroke-width="1.1"/>
<circle cx="397.2" cy="338.9" r="2.45" fill="#d5ebfc" stroke="#42a8f2" stroke-width="1.1"/>
<circle cx="403.3" cy="338.9" r="2.45" fill="#d5ebfc" stroke="#42a8f2" stroke-width="1.1"/>
<circle cx="413.5" cy="331.7" r="2.45" fill="#d5ebfc" stroke="#42a8f2" stroke-width="1.1"/>
<circle cx="422.1" cy="329.0" r="2.45" fill="#d5ebfc" stroke="#42a8f2" stroke-width="1.1"/>
<circle cx="434.5" cy="333.5" r="2.45" fill="#d5ebfc" stroke="#42a8f2" stroke-width="1.1"/>
<circle cx="442.2" cy="329.0" r="2.45" fill="#d5ebfc" stroke="#42a8f2" stroke-width="1.1"/>
<circle cx="452.6" cy="333.5" r="2.45" fill="#d5ebfc" stroke="#42a8f2" stroke-width="1.1"/>
<circle cx="461.7" cy="331.7" r="2.45" fill="#d5ebfc" stroke="#42a8f2" stroke-width="1.1"/>
<circle cx="469.6" cy="336.7" r="2.45" fill="#d5ebfc" stroke="#42a8f2" stroke-width="1.1"/>
<circle cx="476.2" cy="331.7" r="2.45" fill="#d5ebfc" stroke="#42a8f2" stroke-width="1.1"/>
<circle cx="483.2" cy="336.7" r="2.45" fill="#d5ebfc" stroke="#42a8f2" stroke-width="1.1"/>
<circle cx="494.5" cy="328.1" r="2.45" fill="#d5ebfc" stroke="#42a8f2" stroke-width="1.1"/>
<circle cx="506.7" cy="331.7" r="2.45" fill="#d5ebfc" stroke="#42a8f2" stroke-width="1.1"/>
<circle cx="510.1" cy="323.3" r="2.45" fill="#d5ebfc" stroke="#42a8f2" stroke-width="1.1"/>
<circle cx="521.0" cy="289.8" r="2.45" fill="#d5ebfc" stroke="#42a8f2" stroke-width="1.1"/>
<circle cx="533.0" cy="278.1" r="2.45" fill="#d5ebfc" stroke="#42a8f2" stroke-width="1.1"/>
<circle cx="537.3" cy="283.0" r="2.45" fill="#d5ebfc" stroke="#42a8f2" stroke-width="1.1"/>
<circle cx="544.6" cy="277.5" r="2.45" fill="#d5ebfc" stroke="#42a8f2" stroke-width="1.1"/>
<circle cx="557.8" cy="274.0" r="2.45" fill="#d5ebfc" stroke="#42a8f2" stroke-width="1.1"/>
<circle cx="559.9" cy="271.1" r="2.45" fill="#d5ebfc" stroke="#42a8f2" stroke-width="1.1"/>
<circle cx="567.5" cy="269.5" r="2.45" fill="#d5ebfc" stroke="#42a8f2" stroke-width="1.1"/>
<circle cx="578.7" cy="267.2" r="2.45" fill="#d5ebfc" stroke="#42a8f2" stroke-width="1.1"/>
<circle cx="586.9" cy="266.7" r="2.45" fill="#d5ebfc" stroke="#42a8f2" stroke-width="1.1"/>
<circle cx="589.3" cy="266.7" r="2.45" fill="#d5ebfc" stroke="#42a8f2" stroke-width="1.1"/>
<circle cx="600.2" cy="264.4" r="2.45" fill="#d5ebfc" stroke="#42a8f2" stroke-width="1.1"/>
<circle cx="609.6" cy="262.5" r="2.45" fill="#d5ebfc" stroke="#42a8f2" stroke-width="1.1"/>
<circle cx="616.1" cy="261.6" r="2.45" fill="#d5ebfc" stroke="#42a8f2" stroke-width="1.1"/>
<circle cx="619.6" cy="261.6" r="2.45" fill="#d5ebfc" stroke="#42a8f2" stroke-width="1.1"/>
<circle cx="630.1" cy="259.7" r="2.45" fill="#d5ebfc" stroke="#42a8f2" stroke-width="1.1"/>
<circle cx="640.2" cy="258.6" r="2.45" fill="#d5ebfc" stroke="#42a8f2" stroke-width="1.1"/>
<circle cx="647.0" cy="257.9" r="2.45" fill="#d5ebfc" stroke="#42a8f2" stroke-width="1.1"/>
<circle cx="654.7" cy="258.6" r="2.45" fill="#d5ebfc" stroke="#42a8f2" stroke-width="1.1"/>
<circle cx="661.2" cy="255.5" r="2.45" fill="#d5ebfc" stroke="#42a8f2" stroke-width="1.1"/>
<circle cx="669.9" cy="255.0" r="2.45" fill="#d5ebfc" stroke="#42a8f2" stroke-width="1.1"/>
</g>
<text x="651.57" y="325.3" font-size="12.6" fill="#222" textLength="35.18" lengthAdjust="spacingAndGlyphs">130 K</text>
<clipPath id="cp130"><rect x="378" y="0" width="310" height="700"/></clipPath>
<g clip-path="url(#cp130)">
<polyline points="397.0,408.0 404.0,407.3 411.9,417.5 423.7,415.9 431.6,414.8 440.6,420.9 447.4,413.0 458.0,417.5 466.2,423.9 475.7,408.0 480.9,414.1 490.0,406.2 497.9,414.8 504.0,412.3 513.5,415.7 524.4,413.7 529.5,410.5 536.0,412.7 547.2,414.6 552.3,356.1 559.6,352.6 567.1,351.9 574.5,349.5 583.4,347.9 590.4,347.9 598.6,344.4 604.4,342.8 612.6,342.5 618.0,343.2 626.6,339.0 632.0,340.9 641.1,338.6 654.7,335.7 660.5,335.0 668.7,333.4 675.2,332.7" fill="none" stroke="#f52835" stroke-width="1.1" stroke-linejoin="round" />
<polyline points="392.7,418.7 399.2,413.4 411.9,411.9 423.7,411.9 431.6,410.1 440.2,417.5 446.3,413.7 456.9,411.4 466.2,417.5 474.6,414.8 479.5,413.0 492.0,409.1 497.9,413.0 505.8,385.8 509.6,380.6 519.8,365.3 526.9,363.0 533.2,361.4 543.7,355.6 549.5,353.7 560.0,351.4 565.9,350.2 574.1,348.4 579.9,350.2 586.9,347.2 595.8,343.2 603.7,342.5 608.4,343.7 617.3,339.7 623.1,339.7 630.1,338.6 637.1,336.7 645.8,336.2 650.5,335.7 658.6,334.6 665.9,333.4 673.4,333.2" fill="none" stroke="#42a8f2" stroke-width="1.1" stroke-linejoin="round" />
<circle cx="397.0" cy="408.0" r="2.45" fill="#fcd5d8" stroke="#f52835" stroke-width="1.1"/>
<circle cx="404.0" cy="407.3" r="2.45" fill="#fcd5d8" stroke="#f52835" stroke-width="1.1"/>
<circle cx="411.9" cy="417.5" r="2.45" fill="#fcd5d8" stroke="#f52835" stroke-width="1.1"/>
<circle cx="423.7" cy="415.9" r="2.45" fill="#fcd5d8" stroke="#f52835" stroke-width="1.1"/>
<circle cx="431.6" cy="414.8" r="2.45" fill="#fcd5d8" stroke="#f52835" stroke-width="1.1"/>
<circle cx="440.6" cy="420.9" r="2.45" fill="#fcd5d8" stroke="#f52835" stroke-width="1.1"/>
<circle cx="447.4" cy="413.0" r="2.45" fill="#fcd5d8" stroke="#f52835" stroke-width="1.1"/>
<circle cx="458.0" cy="417.5" r="2.45" fill="#fcd5d8" stroke="#f52835" stroke-width="1.1"/>
<circle cx="466.2" cy="423.9" r="2.45" fill="#fcd5d8" stroke="#f52835" stroke-width="1.1"/>
<circle cx="475.7" cy="408.0" r="2.45" fill="#fcd5d8" stroke="#f52835" stroke-width="1.1"/>
<circle cx="480.9" cy="414.1" r="2.45" fill="#fcd5d8" stroke="#f52835" stroke-width="1.1"/>
<circle cx="490.0" cy="406.2" r="2.45" fill="#fcd5d8" stroke="#f52835" stroke-width="1.1"/>
<circle cx="497.9" cy="414.8" r="2.45" fill="#fcd5d8" stroke="#f52835" stroke-width="1.1"/>
<circle cx="504.0" cy="412.3" r="2.45" fill="#fcd5d8" stroke="#f52835" stroke-width="1.1"/>
<circle cx="513.5" cy="415.7" r="2.45" fill="#fcd5d8" stroke="#f52835" stroke-width="1.1"/>
<circle cx="524.4" cy="413.7" r="2.45" fill="#fcd5d8" stroke="#f52835" stroke-width="1.1"/>
<circle cx="529.5" cy="410.5" r="2.45" fill="#fcd5d8" stroke="#f52835" stroke-width="1.1"/>
<circle cx="536.0" cy="412.7" r="2.45" fill="#fcd5d8" stroke="#f52835" stroke-width="1.1"/>
<circle cx="547.2" cy="414.6" r="2.45" fill="#fcd5d8" stroke="#f52835" stroke-width="1.1"/>
<circle cx="552.3" cy="356.1" r="2.45" fill="#fcd5d8" stroke="#f52835" stroke-width="1.1"/>
<circle cx="559.6" cy="352.6" r="2.45" fill="#fcd5d8" stroke="#f52835" stroke-width="1.1"/>
<circle cx="567.1" cy="351.9" r="2.45" fill="#fcd5d8" stroke="#f52835" stroke-width="1.1"/>
<circle cx="574.5" cy="349.5" r="2.45" fill="#fcd5d8" stroke="#f52835" stroke-width="1.1"/>
<circle cx="583.4" cy="347.9" r="2.45" fill="#fcd5d8" stroke="#f52835" stroke-width="1.1"/>
<circle cx="590.4" cy="347.9" r="2.45" fill="#fcd5d8" stroke="#f52835" stroke-width="1.1"/>
<circle cx="598.6" cy="344.4" r="2.45" fill="#fcd5d8" stroke="#f52835" stroke-width="1.1"/>
<circle cx="604.4" cy="342.8" r="2.45" fill="#fcd5d8" stroke="#f52835" stroke-width="1.1"/>
<circle cx="612.6" cy="342.5" r="2.45" fill="#fcd5d8" stroke="#f52835" stroke-width="1.1"/>
<circle cx="618.0" cy="343.2" r="2.45" fill="#fcd5d8" stroke="#f52835" stroke-width="1.1"/>
<circle cx="626.6" cy="339.0" r="2.45" fill="#fcd5d8" stroke="#f52835" stroke-width="1.1"/>
<circle cx="632.0" cy="340.9" r="2.45" fill="#fcd5d8" stroke="#f52835" stroke-width="1.1"/>
<circle cx="641.1" cy="338.6" r="2.45" fill="#fcd5d8" stroke="#f52835" stroke-width="1.1"/>
<circle cx="654.7" cy="335.7" r="2.45" fill="#fcd5d8" stroke="#f52835" stroke-width="1.1"/>
<circle cx="660.5" cy="335.0" r="2.45" fill="#fcd5d8" stroke="#f52835" stroke-width="1.1"/>
<circle cx="668.7" cy="333.4" r="2.45" fill="#fcd5d8" stroke="#f52835" stroke-width="1.1"/>
<circle cx="675.2" cy="332.7" r="2.45" fill="#fcd5d8" stroke="#f52835" stroke-width="1.1"/>
<circle cx="392.7" cy="418.7" r="2.45" fill="#d5ebfc" stroke="#42a8f2" stroke-width="1.1"/>
<circle cx="399.2" cy="413.4" r="2.45" fill="#d5ebfc" stroke="#42a8f2" stroke-width="1.1"/>
<circle cx="411.9" cy="411.9" r="2.45" fill="#d5ebfc" stroke="#42a8f2" stroke-width="1.1"/>
<circle cx="423.7" cy="411.9" r="2.45" fill="#d5ebfc" stroke="#42a8f2" stroke-width="1.1"/>
<circle cx="431.6" cy="410.1" r="2.45" fill="#d5ebfc" stroke="#42a8f2" stroke-width="1.1"/>
<circle cx="440.2" cy="417.5" r="2.45" fill="#d5ebfc" stroke="#42a8f2" stroke-width="1.1"/>
<circle cx="446.3" cy="413.7" r="2.45" fill="#d5ebfc" stroke="#42a8f2" stroke-width="1.1"/>
<circle cx="456.9" cy="411.4" r="2.45" fill="#d5ebfc" stroke="#42a8f2" stroke-width="1.1"/>
<circle cx="466.2" cy="417.5" r="2.45" fill="#d5ebfc" stroke="#42a8f2" stroke-width="1.1"/>
<circle cx="474.6" cy="414.8" r="2.45" fill="#d5ebfc" stroke="#42a8f2" stroke-width="1.1"/>
<circle cx="479.5" cy="413.0" r="2.45" fill="#d5ebfc" stroke="#42a8f2" stroke-width="1.1"/>
<circle cx="492.0" cy="409.1" r="2.45" fill="#d5ebfc" stroke="#42a8f2" stroke-width="1.1"/>
<circle cx="497.9" cy="413.0" r="2.45" fill="#d5ebfc" stroke="#42a8f2" stroke-width="1.1"/>
<circle cx="505.8" cy="385.8" r="2.45" fill="#d5ebfc" stroke="#42a8f2" stroke-width="1.1"/>
<circle cx="509.6" cy="380.6" r="2.45" fill="#d5ebfc" stroke="#42a8f2" stroke-width="1.1"/>
<circle cx="519.8" cy="365.3" r="2.45" fill="#d5ebfc" stroke="#42a8f2" stroke-width="1.1"/>
<circle cx="526.9" cy="363.0" r="2.45" fill="#d5ebfc" stroke="#42a8f2" stroke-width="1.1"/>
<circle cx="533.2" cy="361.4" r="2.45" fill="#d5ebfc" stroke="#42a8f2" stroke-width="1.1"/>
<circle cx="543.7" cy="355.6" r="2.45" fill="#d5ebfc" stroke="#42a8f2" stroke-width="1.1"/>
<circle cx="549.5" cy="353.7" r="2.45" fill="#d5ebfc" stroke="#42a8f2" stroke-width="1.1"/>
<circle cx="560.0" cy="351.4" r="2.45" fill="#d5ebfc" stroke="#42a8f2" stroke-width="1.1"/>
<circle cx="565.9" cy="350.2" r="2.45" fill="#d5ebfc" stroke="#42a8f2" stroke-width="1.1"/>
<circle cx="574.1" cy="348.4" r="2.45" fill="#d5ebfc" stroke="#42a8f2" stroke-width="1.1"/>
<circle cx="579.9" cy="350.2" r="2.45" fill="#d5ebfc" stroke="#42a8f2" stroke-width="1.1"/>
<circle cx="586.9" cy="347.2" r="2.45" fill="#d5ebfc" stroke="#42a8f2" stroke-width="1.1"/>
<circle cx="595.8" cy="343.2" r="2.45" fill="#d5ebfc" stroke="#42a8f2" stroke-width="1.1"/>
<circle cx="603.7" cy="342.5" r="2.45" fill="#d5ebfc" stroke="#42a8f2" stroke-width="1.1"/>
<circle cx="608.4" cy="343.7" r="2.45" fill="#d5ebfc" stroke="#42a8f2" stroke-width="1.1"/>
<circle cx="617.3" cy="339.7" r="2.45" fill="#d5ebfc" stroke="#42a8f2" stroke-width="1.1"/>
<circle cx="623.1" cy="339.7" r="2.45" fill="#d5ebfc" stroke="#42a8f2" stroke-width="1.1"/>
<circle cx="630.1" cy="338.6" r="2.45" fill="#d5ebfc" stroke="#42a8f2" stroke-width="1.1"/>
<circle cx="637.1" cy="336.7" r="2.45" fill="#d5ebfc" stroke="#42a8f2" stroke-width="1.1"/>
<circle cx="645.8" cy="336.2" r="2.45" fill="#d5ebfc" stroke="#42a8f2" stroke-width="1.1"/>
<circle cx="650.5" cy="335.7" r="2.45" fill="#d5ebfc" stroke="#42a8f2" stroke-width="1.1"/>
<circle cx="658.6" cy="334.6" r="2.45" fill="#d5ebfc" stroke="#42a8f2" stroke-width="1.1"/>
<circle cx="665.9" cy="333.4" r="2.45" fill="#d5ebfc" stroke="#42a8f2" stroke-width="1.1"/>
<circle cx="673.4" cy="333.2" r="2.45" fill="#d5ebfc" stroke="#42a8f2" stroke-width="1.1"/>
</g>
<text x="651.57" y="401.1" font-size="12.6" fill="#222" textLength="35.18" lengthAdjust="spacingAndGlyphs">120 K</text>
<clipPath id="cp120"><rect x="378" y="0" width="310" height="501.2"/></clipPath>
<g clip-path="url(#cp120)">
<polyline points="386.3,480.7 394.9,484.8 406.0,484.1 410.5,490.9 419.8,488.2 429.3,490.9 436.6,486.8 445.8,481.4 453.5,495.4 462.1,487.1 473.0,489.8 479.8,483.0 487.0,488.7 496.1,492.7 504.4,487.1 510.1,483.7 521.6,488.2 528.7,489.1 538.6,488.0 545.6,499.7 552.6,431.9 559.6,429.1 568.2,423.2 577.6,423.9 583.0,420.2 590.9,423.9 597.9,418.6 604.0,417.4 611.4,418.6 616.1,415.0 621.3,413.4 627.8,415.0 639.5,411.5 642.3,412.2 658.6,409.2 665.2,408.5 668.7,409.2" fill="none" stroke="#f52835" stroke-width="1.1" stroke-linejoin="round" />
<polyline points="384.7,493.6 397.0,489.1 407.4,486.8 414.5,505.0 424.8,489.1 434.3,489.1 441.1,494.8 450.4,484.1 459.2,489.8 467.8,489.8 475.7,486.8 484.8,489.1 491.5,459.2 499.5,454.0 506.7,450.9 511.9,445.7 522.3,442.3 529.0,436.8 535.5,436.8 544.9,431.4 554.2,429.8 561.9,428.4 567.8,426.0 575.2,423.2 580.4,423.2 588.1,421.6 592.3,420.9 601.6,419.3 611.0,417.4 616.1,416.9 622.0,415.5 630.1,415.0 638.3,413.4 646.0,412.7 650.5,412.7 655.8,412.0 662.4,410.8 671.0,409.9 678.0,408.0" fill="none" stroke="#42a8f2" stroke-width="1.1" stroke-linejoin="round" />
<circle cx="386.3" cy="480.7" r="2.45" fill="#fcd5d8" stroke="#f52835" stroke-width="1.1"/>
<circle cx="394.9" cy="484.8" r="2.45" fill="#fcd5d8" stroke="#f52835" stroke-width="1.1"/>
<circle cx="406.0" cy="484.1" r="2.45" fill="#fcd5d8" stroke="#f52835" stroke-width="1.1"/>
<circle cx="410.5" cy="490.9" r="2.45" fill="#fcd5d8" stroke="#f52835" stroke-width="1.1"/>
<circle cx="419.8" cy="488.2" r="2.45" fill="#fcd5d8" stroke="#f52835" stroke-width="1.1"/>
<circle cx="429.3" cy="490.9" r="2.45" fill="#fcd5d8" stroke="#f52835" stroke-width="1.1"/>
<circle cx="436.6" cy="486.8" r="2.45" fill="#fcd5d8" stroke="#f52835" stroke-width="1.1"/>
<circle cx="445.8" cy="481.4" r="2.45" fill="#fcd5d8" stroke="#f52835" stroke-width="1.1"/>
<circle cx="453.5" cy="495.4" r="2.45" fill="#fcd5d8" stroke="#f52835" stroke-width="1.1"/>
<circle cx="462.1" cy="487.1" r="2.45" fill="#fcd5d8" stroke="#f52835" stroke-width="1.1"/>
<circle cx="473.0" cy="489.8" r="2.45" fill="#fcd5d8" stroke="#f52835" stroke-width="1.1"/>
<circle cx="479.8" cy="483.0" r="2.45" fill="#fcd5d8" stroke="#f52835" stroke-width="1.1"/>
<circle cx="487.0" cy="488.7" r="2.45" fill="#fcd5d8" stroke="#f52835" stroke-width="1.1"/>
<circle cx="496.1" cy="492.7" r="2.45" fill="#fcd5d8" stroke="#f52835" stroke-width="1.1"/>
<circle cx="504.4" cy="487.1" r="2.45" fill="#fcd5d8" stroke="#f52835" stroke-width="1.1"/>
<circle cx="510.1" cy="483.7" r="2.45" fill="#fcd5d8" stroke="#f52835" stroke-width="1.1"/>
<circle cx="521.6" cy="488.2" r="2.45" fill="#fcd5d8" stroke="#f52835" stroke-width="1.1"/>
<circle cx="528.7" cy="489.1" r="2.45" fill="#fcd5d8" stroke="#f52835" stroke-width="1.1"/>
<circle cx="538.6" cy="488.0" r="2.45" fill="#fcd5d8" stroke="#f52835" stroke-width="1.1"/>
<circle cx="545.6" cy="499.7" r="2.45" fill="#fcd5d8" stroke="#f52835" stroke-width="1.1"/>
<circle cx="552.6" cy="431.9" r="2.45" fill="#fcd5d8" stroke="#f52835" stroke-width="1.1"/>
<circle cx="559.6" cy="429.1" r="2.45" fill="#fcd5d8" stroke="#f52835" stroke-width="1.1"/>
<circle cx="568.2" cy="423.2" r="2.45" fill="#fcd5d8" stroke="#f52835" stroke-width="1.1"/>
<circle cx="577.6" cy="423.9" r="2.45" fill="#fcd5d8" stroke="#f52835" stroke-width="1.1"/>
<circle cx="583.0" cy="420.2" r="2.45" fill="#fcd5d8" stroke="#f52835" stroke-width="1.1"/>
<circle cx="590.9" cy="423.9" r="2.45" fill="#fcd5d8" stroke="#f52835" stroke-width="1.1"/>
<circle cx="597.9" cy="418.6" r="2.45" fill="#fcd5d8" stroke="#f52835" stroke-width="1.1"/>
<circle cx="604.0" cy="417.4" r="2.45" fill="#fcd5d8" stroke="#f52835" stroke-width="1.1"/>
<circle cx="611.4" cy="418.6" r="2.45" fill="#fcd5d8" stroke="#f52835" stroke-width="1.1"/>
<circle cx="616.1" cy="415.0" r="2.45" fill="#fcd5d8" stroke="#f52835" stroke-width="1.1"/>
<circle cx="621.3" cy="413.4" r="2.45" fill="#fcd5d8" stroke="#f52835" stroke-width="1.1"/>
<circle cx="627.8" cy="415.0" r="2.45" fill="#fcd5d8" stroke="#f52835" stroke-width="1.1"/>
<circle cx="639.5" cy="411.5" r="2.45" fill="#fcd5d8" stroke="#f52835" stroke-width="1.1"/>
<circle cx="642.3" cy="412.2" r="2.45" fill="#fcd5d8" stroke="#f52835" stroke-width="1.1"/>
<circle cx="658.6" cy="409.2" r="2.45" fill="#fcd5d8" stroke="#f52835" stroke-width="1.1"/>
<circle cx="665.2" cy="408.5" r="2.45" fill="#fcd5d8" stroke="#f52835" stroke-width="1.1"/>
<circle cx="668.7" cy="409.2" r="2.45" fill="#fcd5d8" stroke="#f52835" stroke-width="1.1"/>
<circle cx="384.7" cy="493.6" r="2.45" fill="#d5ebfc" stroke="#42a8f2" stroke-width="1.1"/>
<circle cx="397.0" cy="489.1" r="2.45" fill="#d5ebfc" stroke="#42a8f2" stroke-width="1.1"/>
<circle cx="407.4" cy="486.8" r="2.45" fill="#d5ebfc" stroke="#42a8f2" stroke-width="1.1"/>
<circle cx="414.5" cy="505.0" r="2.45" fill="#d5ebfc" stroke="#42a8f2" stroke-width="1.1"/>
<circle cx="424.8" cy="489.1" r="2.45" fill="#d5ebfc" stroke="#42a8f2" stroke-width="1.1"/>
<circle cx="434.3" cy="489.1" r="2.45" fill="#d5ebfc" stroke="#42a8f2" stroke-width="1.1"/>
<circle cx="441.1" cy="494.8" r="2.45" fill="#d5ebfc" stroke="#42a8f2" stroke-width="1.1"/>
<circle cx="450.4" cy="484.1" r="2.45" fill="#d5ebfc" stroke="#42a8f2" stroke-width="1.1"/>
<circle cx="459.2" cy="489.8" r="2.45" fill="#d5ebfc" stroke="#42a8f2" stroke-width="1.1"/>
<circle cx="467.8" cy="489.8" r="2.45" fill="#d5ebfc" stroke="#42a8f2" stroke-width="1.1"/>
<circle cx="475.7" cy="486.8" r="2.45" fill="#d5ebfc" stroke="#42a8f2" stroke-width="1.1"/>
<circle cx="484.8" cy="489.1" r="2.45" fill="#d5ebfc" stroke="#42a8f2" stroke-width="1.1"/>
<circle cx="491.5" cy="459.2" r="2.45" fill="#d5ebfc" stroke="#42a8f2" stroke-width="1.1"/>
<circle cx="499.5" cy="454.0" r="2.45" fill="#d5ebfc" stroke="#42a8f2" stroke-width="1.1"/>
<circle cx="506.7" cy="450.9" r="2.45" fill="#d5ebfc" stroke="#42a8f2" stroke-width="1.1"/>
<circle cx="511.9" cy="445.7" r="2.45" fill="#d5ebfc" stroke="#42a8f2" stroke-width="1.1"/>
<circle cx="522.3" cy="442.3" r="2.45" fill="#d5ebfc" stroke="#42a8f2" stroke-width="1.1"/>
<circle cx="529.0" cy="436.8" r="2.45" fill="#d5ebfc" stroke="#42a8f2" stroke-width="1.1"/>
<circle cx="535.5" cy="436.8" r="2.45" fill="#d5ebfc" stroke="#42a8f2" stroke-width="1.1"/>
<circle cx="544.9" cy="431.4" r="2.45" fill="#d5ebfc" stroke="#42a8f2" stroke-width="1.1"/>
<circle cx="554.2" cy="429.8" r="2.45" fill="#d5ebfc" stroke="#42a8f2" stroke-width="1.1"/>
<circle cx="561.9" cy="428.4" r="2.45" fill="#d5ebfc" stroke="#42a8f2" stroke-width="1.1"/>
<circle cx="567.8" cy="426.0" r="2.45" fill="#d5ebfc" stroke="#42a8f2" stroke-width="1.1"/>
<circle cx="575.2" cy="423.2" r="2.45" fill="#d5ebfc" stroke="#42a8f2" stroke-width="1.1"/>
<circle cx="580.4" cy="423.2" r="2.45" fill="#d5ebfc" stroke="#42a8f2" stroke-width="1.1"/>
<circle cx="588.1" cy="421.6" r="2.45" fill="#d5ebfc" stroke="#42a8f2" stroke-width="1.1"/>
<circle cx="592.3" cy="420.9" r="2.45" fill="#d5ebfc" stroke="#42a8f2" stroke-width="1.1"/>
<circle cx="601.6" cy="419.3" r="2.45" fill="#d5ebfc" stroke="#42a8f2" stroke-width="1.1"/>
<circle cx="611.0" cy="417.4" r="2.45" fill="#d5ebfc" stroke="#42a8f2" stroke-width="1.1"/>
<circle cx="616.1" cy="416.9" r="2.45" fill="#d5ebfc" stroke="#42a8f2" stroke-width="1.1"/>
<circle cx="622.0" cy="415.5" r="2.45" fill="#d5ebfc" stroke="#42a8f2" stroke-width="1.1"/>
<circle cx="630.1" cy="415.0" r="2.45" fill="#d5ebfc" stroke="#42a8f2" stroke-width="1.1"/>
<circle cx="638.3" cy="413.4" r="2.45" fill="#d5ebfc" stroke="#42a8f2" stroke-width="1.1"/>
<circle cx="646.0" cy="412.7" r="2.45" fill="#d5ebfc" stroke="#42a8f2" stroke-width="1.1"/>
<circle cx="650.5" cy="412.7" r="2.45" fill="#d5ebfc" stroke="#42a8f2" stroke-width="1.1"/>
<circle cx="655.8" cy="412.0" r="2.45" fill="#d5ebfc" stroke="#42a8f2" stroke-width="1.1"/>
<circle cx="662.4" cy="410.8" r="2.45" fill="#d5ebfc" stroke="#42a8f2" stroke-width="1.1"/>
<circle cx="671.0" cy="409.9" r="2.45" fill="#d5ebfc" stroke="#42a8f2" stroke-width="1.1"/>
</g>
<text x="651.57" y="489.5" font-size="12.6" fill="#222" textLength="35.18" lengthAdjust="spacingAndGlyphs">110 K</text>
<clipPath id="cp110"><rect x="378" y="0" width="310" height="700"/></clipPath>
<g clip-path="url(#cp110)">
<polyline points="377.7,585.6 382.5,582.7 393.1,584.9 402.8,587.2 410.1,588.3 416.4,587.9 426.6,587.2 436.8,585.6 441.3,588.3 453.1,586.8 461.0,589.0 472.8,586.8 479.5,586.1 488.1,584.0 493.4,585.2 502.6,589.9 511.7,586.4 517.5,590.4 526.3,587.2 534.6,587.9 541.6,584.5 551.4,586.0 558.7,586.4 563.6,517.9 569.9,509.3 578.3,508.1 584.6,507.4 595.1,506.9 599.3,506.2 607.5,504.6 613.8,503.9 623.1,502.7 629.7,502.7 639.0,501.1 643.7,499.9 652.3,499.2 657.0,498.7 671.0,496.9" fill="none" stroke="#f52835" stroke-width="1.1" stroke-linejoin="round" />
<polyline points="377.7,587.9 386.8,592.0 393.8,588.3 401.7,585.6 411.9,589.7 422.1,582.2 431.1,585.6 435.4,587.4 447.0,586.3 453.8,584.0 464.4,580.0 470.5,538.1 481.4,529.5 490.0,524.5 496.1,524.5 508.1,523.4 511.9,522.7 522.6,517.6 526.2,516.7 537.1,514.4 545.3,513.7 553.0,512.5 561.7,511.6 567.8,508.6 576.9,508.1 583.4,506.7 592.8,505.5 599.8,506.7 607.5,504.6 613.3,503.9 621.3,503.4 627.8,502.2 636.7,500.4 641.8,499.7 648.4,499.2 654.7,498.0 666.4,497.6 672.2,497.6 677.3,496.9" fill="none" stroke="#42a8f2" stroke-width="1.1" stroke-linejoin="round" />
<circle cx="382.5" cy="582.7" r="2.45" fill="#fcd5d8" stroke="#f52835" stroke-width="1.1"/>
<circle cx="393.1" cy="584.9" r="2.45" fill="#fcd5d8" stroke="#f52835" stroke-width="1.1"/>
<circle cx="402.8" cy="587.2" r="2.45" fill="#fcd5d8" stroke="#f52835" stroke-width="1.1"/>
<circle cx="410.1" cy="588.3" r="2.45" fill="#fcd5d8" stroke="#f52835" stroke-width="1.1"/>
<circle cx="416.4" cy="587.9" r="2.45" fill="#fcd5d8" stroke="#f52835" stroke-width="1.1"/>
<circle cx="426.6" cy="587.2" r="2.45" fill="#fcd5d8" stroke="#f52835" stroke-width="1.1"/>
<circle cx="436.8" cy="585.6" r="2.45" fill="#fcd5d8" stroke="#f52835" stroke-width="1.1"/>
<circle cx="441.3" cy="588.3" r="2.45" fill="#fcd5d8" stroke="#f52835" stroke-width="1.1"/>
<circle cx="453.1" cy="586.8" r="2.45" fill="#fcd5d8" stroke="#f52835" stroke-width="1.1"/>
<circle cx="461.0" cy="589.0" r="2.45" fill="#fcd5d8" stroke="#f52835" stroke-width="1.1"/>
<circle cx="472.8" cy="586.8" r="2.45" fill="#fcd5d8" stroke="#f52835" stroke-width="1.1"/>
<circle cx="479.5" cy="586.1" r="2.45" fill="#fcd5d8" stroke="#f52835" stroke-width="1.1"/>
<circle cx="488.1" cy="584.0" r="2.45" fill="#fcd5d8" stroke="#f52835" stroke-width="1.1"/>
<circle cx="493.4" cy="585.2" r="2.45" fill="#fcd5d8" stroke="#f52835" stroke-width="1.1"/>
<circle cx="502.6" cy="589.9" r="2.45" fill="#fcd5d8" stroke="#f52835" stroke-width="1.1"/>
<circle cx="511.7" cy="586.4" r="2.45" fill="#fcd5d8" stroke="#f52835" stroke-width="1.1"/>
<circle cx="517.5" cy="590.4" r="2.45" fill="#fcd5d8" stroke="#f52835" stroke-width="1.1"/>
<circle cx="526.3" cy="587.2" r="2.45" fill="#fcd5d8" stroke="#f52835" stroke-width="1.1"/>
<circle cx="534.6" cy="587.9" r="2.45" fill="#fcd5d8" stroke="#f52835" stroke-width="1.1"/>
<circle cx="541.6" cy="584.5" r="2.45" fill="#fcd5d8" stroke="#f52835" stroke-width="1.1"/>
<circle cx="551.4" cy="586.0" r="2.45" fill="#fcd5d8" stroke="#f52835" stroke-width="1.1"/>
<circle cx="558.7" cy="586.4" r="2.45" fill="#fcd5d8" stroke="#f52835" stroke-width="1.1"/>
<circle cx="563.6" cy="517.9" r="2.45" fill="#fcd5d8" stroke="#f52835" stroke-width="1.1"/>
<circle cx="569.9" cy="509.3" r="2.45" fill="#fcd5d8" stroke="#f52835" stroke-width="1.1"/>
<circle cx="578.3" cy="508.1" r="2.45" fill="#fcd5d8" stroke="#f52835" stroke-width="1.1"/>
<circle cx="584.6" cy="507.4" r="2.45" fill="#fcd5d8" stroke="#f52835" stroke-width="1.1"/>
<circle cx="595.1" cy="506.9" r="2.45" fill="#fcd5d8" stroke="#f52835" stroke-width="1.1"/>
<circle cx="599.3" cy="506.2" r="2.45" fill="#fcd5d8" stroke="#f52835" stroke-width="1.1"/>
<circle cx="607.5" cy="504.6" r="2.45" fill="#fcd5d8" stroke="#f52835" stroke-width="1.1"/>
<circle cx="613.8" cy="503.9" r="2.45" fill="#fcd5d8" stroke="#f52835" stroke-width="1.1"/>
<circle cx="623.1" cy="502.7" r="2.45" fill="#fcd5d8" stroke="#f52835" stroke-width="1.1"/>
<circle cx="629.7" cy="502.7" r="2.45" fill="#fcd5d8" stroke="#f52835" stroke-width="1.1"/>
<circle cx="639.0" cy="501.1" r="2.45" fill="#fcd5d8" stroke="#f52835" stroke-width="1.1"/>
<circle cx="643.7" cy="499.9" r="2.45" fill="#fcd5d8" stroke="#f52835" stroke-width="1.1"/>
<circle cx="652.3" cy="499.2" r="2.45" fill="#fcd5d8" stroke="#f52835" stroke-width="1.1"/>
<circle cx="657.0" cy="498.7" r="2.45" fill="#fcd5d8" stroke="#f52835" stroke-width="1.1"/>
<circle cx="671.0" cy="496.9" r="2.45" fill="#fcd5d8" stroke="#f52835" stroke-width="1.1"/>
<circle cx="386.8" cy="592.0" r="2.45" fill="#d5ebfc" stroke="#42a8f2" stroke-width="1.1"/>
<circle cx="393.8" cy="588.3" r="2.45" fill="#d5ebfc" stroke="#42a8f2" stroke-width="1.1"/>
<circle cx="401.7" cy="585.6" r="2.45" fill="#d5ebfc" stroke="#42a8f2" stroke-width="1.1"/>
<circle cx="411.9" cy="589.7" r="2.45" fill="#d5ebfc" stroke="#42a8f2" stroke-width="1.1"/>
<circle cx="422.1" cy="582.2" r="2.45" fill="#d5ebfc" stroke="#42a8f2" stroke-width="1.1"/>
<circle cx="431.1" cy="585.6" r="2.45" fill="#d5ebfc" stroke="#42a8f2" stroke-width="1.1"/>
<circle cx="435.4" cy="587.4" r="2.45" fill="#d5ebfc" stroke="#42a8f2" stroke-width="1.1"/>
<circle cx="447.0" cy="586.3" r="2.45" fill="#d5ebfc" stroke="#42a8f2" stroke-width="1.1"/>
<circle cx="453.8" cy="584.0" r="2.45" fill="#d5ebfc" stroke="#42a8f2" stroke-width="1.1"/>
<circle cx="464.4" cy="580.0" r="2.45" fill="#d5ebfc" stroke="#42a8f2" stroke-width="1.1"/>
<circle cx="470.5" cy="538.1" r="2.45" fill="#d5ebfc" stroke="#42a8f2" stroke-width="1.1"/>
<circle cx="481.4" cy="529.5" r="2.45" fill="#d5ebfc" stroke="#42a8f2" stroke-width="1.1"/>
<circle cx="490.0" cy="524.5" r="2.45" fill="#d5ebfc" stroke="#42a8f2" stroke-width="1.1"/>
<circle cx="496.1" cy="524.5" r="2.45" fill="#d5ebfc" stroke="#42a8f2" stroke-width="1.1"/>
<circle cx="508.1" cy="523.4" r="2.45" fill="#d5ebfc" stroke="#42a8f2" stroke-width="1.1"/>
<circle cx="511.9" cy="522.7" r="2.45" fill="#d5ebfc" stroke="#42a8f2" stroke-width="1.1"/>
<circle cx="522.6" cy="517.6" r="2.45" fill="#d5ebfc" stroke="#42a8f2" stroke-width="1.1"/>
<circle cx="526.2" cy="516.7" r="2.45" fill="#d5ebfc" stroke="#42a8f2" stroke-width="1.1"/>
<circle cx="537.1" cy="514.4" r="2.45" fill="#d5ebfc" stroke="#42a8f2" stroke-width="1.1"/>
<circle cx="545.3" cy="513.7" r="2.45" fill="#d5ebfc" stroke="#42a8f2" stroke-width="1.1"/>
<circle cx="553.0" cy="512.5" r="2.45" fill="#d5ebfc" stroke="#42a8f2" stroke-width="1.1"/>
<circle cx="561.7" cy="511.6" r="2.45" fill="#d5ebfc" stroke="#42a8f2" stroke-width="1.1"/>
<circle cx="567.8" cy="508.6" r="2.45" fill="#d5ebfc" stroke="#42a8f2" stroke-width="1.1"/>
<circle cx="576.9" cy="508.1" r="2.45" fill="#d5ebfc" stroke="#42a8f2" stroke-width="1.1"/>
<circle cx="583.4" cy="506.7" r="2.45" fill="#d5ebfc" stroke="#42a8f2" stroke-width="1.1"/>
<circle cx="592.8" cy="505.5" r="2.45" fill="#d5ebfc" stroke="#42a8f2" stroke-width="1.1"/>
<circle cx="599.8" cy="506.7" r="2.45" fill="#d5ebfc" stroke="#42a8f2" stroke-width="1.1"/>
<circle cx="607.5" cy="504.6" r="2.45" fill="#d5ebfc" stroke="#42a8f2" stroke-width="1.1"/>
<circle cx="613.3" cy="503.9" r="2.45" fill="#d5ebfc" stroke="#42a8f2" stroke-width="1.1"/>
<circle cx="621.3" cy="503.4" r="2.45" fill="#d5ebfc" stroke="#42a8f2" stroke-width="1.1"/>
<circle cx="627.8" cy="502.2" r="2.45" fill="#d5ebfc" stroke="#42a8f2" stroke-width="1.1"/>
<circle cx="636.7" cy="500.4" r="2.45" fill="#d5ebfc" stroke="#42a8f2" stroke-width="1.1"/>
<circle cx="641.8" cy="499.7" r="2.45" fill="#d5ebfc" stroke="#42a8f2" stroke-width="1.1"/>
<circle cx="648.4" cy="499.2" r="2.45" fill="#d5ebfc" stroke="#42a8f2" stroke-width="1.1"/>
<circle cx="654.7" cy="498.0" r="2.45" fill="#d5ebfc" stroke="#42a8f2" stroke-width="1.1"/>
<circle cx="666.4" cy="497.6" r="2.45" fill="#d5ebfc" stroke="#42a8f2" stroke-width="1.1"/>
<circle cx="672.2" cy="497.6" r="2.45" fill="#d5ebfc" stroke="#42a8f2" stroke-width="1.1"/>
</g>
<line x1="498.3" y1="196.3" x2="521" y2="142.4" stroke="#111" stroke-width="1.1" stroke-dasharray="3.5,2.5"/>
</svg>
</body></html>
